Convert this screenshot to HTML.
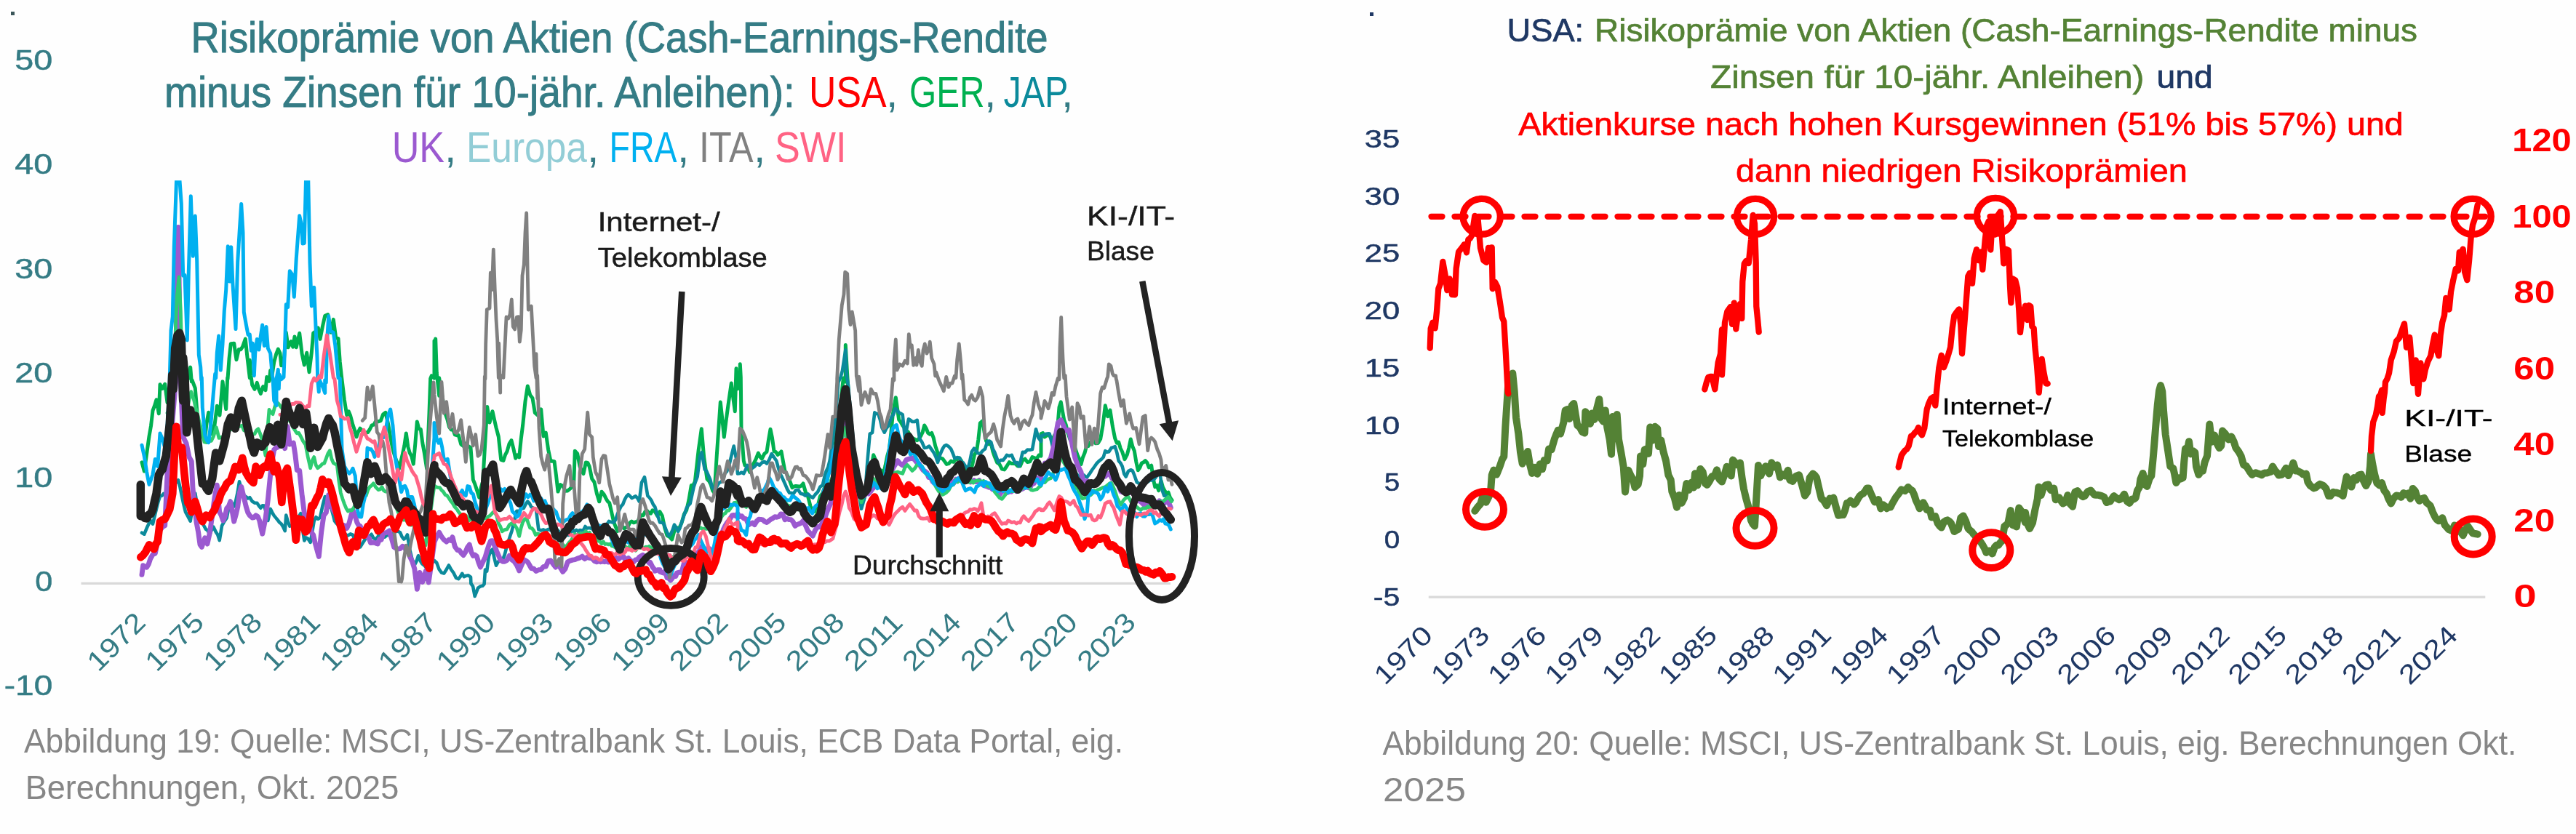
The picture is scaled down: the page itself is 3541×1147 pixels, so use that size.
<!DOCTYPE html><html><head><meta charset="utf-8"><style>html,body{margin:0;padding:0;background:#fefefe}svg{display:block;will-change:transform}</style></head><body><svg width="3541" height="1147" viewBox="0 0 3541 1147">
<rect width="100%" height="100%" fill="#fefefe"/>
<g font-family="Liberation Sans, sans-serif">
<rect x="15" y="16" width="5" height="5" fill="#3b5659"/>
<text x="262.6" y="71.6" font-size="59.0" fill="#357c85" textLength="1178.0" lengthAdjust="spacingAndGlyphs" stroke="#357c85" stroke-width="1.0" >Risikoprämie von Aktien (Cash-Earnings-Rendite</text>
<text x="226.0" y="146.8" font-size="59.0" fill="#357c85" textLength="866.5" lengthAdjust="spacingAndGlyphs" stroke="#357c85" stroke-width="1.0" >minus Zinsen für 10-jähr. Anleihen):</text>
<text x="1112.0" y="146.8" font-size="59.0" fill="#ff0000" textLength="106.5" lengthAdjust="spacingAndGlyphs" >USA</text>
<text x="1218.0" y="146.8" font-size="59.0" fill="#357c85" >,</text>
<text x="1250.0" y="146.8" font-size="59.0" fill="#00b050" textLength="103.5" lengthAdjust="spacingAndGlyphs" >GER</text>
<text x="1353.0" y="146.8" font-size="59.0" fill="#357c85" >,</text>
<text x="1379.5" y="146.8" font-size="59.0" fill="#0b8a9b" textLength="89.0" lengthAdjust="spacingAndGlyphs" >JAP</text>
<text x="1459.0" y="146.8" font-size="59.0" fill="#357c85" >,</text>
<text x="538.7" y="222.6" font-size="59.0" fill="#9b59d0" textLength="72.5" lengthAdjust="spacingAndGlyphs" >UK</text>
<text x="611.0" y="222.6" font-size="59.0" fill="#357c85" >,</text>
<text x="641.0" y="222.6" font-size="59.0" fill="#92cdd6" textLength="166.0" lengthAdjust="spacingAndGlyphs" >Europa</text>
<text x="807.0" y="222.6" font-size="59.0" fill="#357c85" >,</text>
<text x="837.5" y="222.6" font-size="59.0" fill="#00b0f0" textLength="93.0" lengthAdjust="spacingAndGlyphs" >FRA</text>
<text x="931.0" y="222.6" font-size="59.0" fill="#357c85" >,</text>
<text x="961.0" y="222.6" font-size="59.0" fill="#808080" textLength="74.5" lengthAdjust="spacingAndGlyphs" >ITA</text>
<text x="1036.0" y="222.6" font-size="59.0" fill="#357c85" >,</text>
<text x="1065.0" y="222.6" font-size="59.0" fill="#ff6384" textLength="98.5" lengthAdjust="spacingAndGlyphs" >SWI</text>
<text x="72.3" y="95.9" font-size="38.0" fill="#357c85" textLength="52.0" lengthAdjust="spacingAndGlyphs" text-anchor="end" stroke="#357c85" stroke-width="0.5" >50</text>
<text x="72.3" y="239.3" font-size="38.0" fill="#357c85" textLength="52.0" lengthAdjust="spacingAndGlyphs" text-anchor="end" stroke="#357c85" stroke-width="0.5" >40</text>
<text x="72.3" y="382.7" font-size="38.0" fill="#357c85" textLength="52.0" lengthAdjust="spacingAndGlyphs" text-anchor="end" stroke="#357c85" stroke-width="0.5" >30</text>
<text x="72.3" y="526.1" font-size="38.0" fill="#357c85" textLength="52.0" lengthAdjust="spacingAndGlyphs" text-anchor="end" stroke="#357c85" stroke-width="0.5" >20</text>
<text x="72.3" y="669.5" font-size="38.0" fill="#357c85" textLength="52.0" lengthAdjust="spacingAndGlyphs" text-anchor="end" stroke="#357c85" stroke-width="0.5" >10</text>
<text x="72.3" y="812.9" font-size="38.0" fill="#357c85" textLength="24.0" lengthAdjust="spacingAndGlyphs" text-anchor="end" stroke="#357c85" stroke-width="0.5" >0</text>
<text x="72.3" y="956.3" font-size="38.0" fill="#357c85" textLength="66.5" lengthAdjust="spacingAndGlyphs" text-anchor="end" stroke="#357c85" stroke-width="0.5" >-10</text>
<line x1="111.5" y1="802.4" x2="1609" y2="802.4" stroke="#d9d9d9" stroke-width="3.2"/>
<clipPath id="cl"><rect x="100" y="248.3" width="1560" height="640"/></clipPath>
<g fill="none" stroke-linejoin="round" stroke-linecap="round" clip-path="url(#cl)">
<path d="M195.0 635.9 L198.3 648.0 L201.7 623.7 L205.0 600.1 L207.5 585.9 L210.0 564.6 L212.5 557.9 L215.0 549.7 L218.3 568.9 L220.0 528.7 L223.3 534.4 L226.7 528.3 L230.0 553.6 L233.3 538.7 L235.8 533.4 L238.3 523.0 L240.8 522.0 L243.3 523.7 L245.8 521.3 L248.3 518.9 L250.8 518.5 L253.3 516.1 L255.8 520.3 L258.3 521.2 L261.7 505.1 L263.3 524.7 L264.0 522.7 L268.3 533.9 L271.3 571.5 L274.0 584.4 L276.7 595.0 L279.2 600.7 L281.7 602.9 L284.2 580.7 L286.7 567.2 L289.2 579.3 L291.7 597.1 L295.0 584.7 L298.3 558.3 L302.0 571.1 L306.0 524.8 L308.3 544.6 L310.7 562.6 L312.7 519.3 L313.0 521.2 L315.0 493.6 L317.3 472.7 L321.7 472.2 L325.0 494.8 L328.3 480.5 L330.8 480.8 L333.3 477.3 L337.3 466.1 L340.0 491.8 L343.3 519.8 L343.3 495.3 L345.0 517.0 L346.7 529.5 L350.0 535.3 L353.3 526.4 L355.8 535.3 L358.3 541.4 L361.7 531.6 L365.0 536.7 L366.7 518.4 L370.0 524.3 L371.7 509.6 L373.3 521.0 L376.7 498.1 L379.5 487.5 L382.3 480.1 L385.0 485.9 L386.7 502.7 L390.0 499.2 L393.3 457.3 L396.0 477.8 L400.0 469.6 L402.7 477.2 L405.0 462.9 L407.3 477.8 L411.7 458.2 L415.0 485.9 L418.3 501.9 L421.7 485.3 L425.0 511.8 L428.3 485.1 L430.7 458.1 L433.3 456.3 L437.3 450.9 L440.0 466.4 L443.3 449.5 L446.7 434.2 L450.7 432.6 L455.0 457.3 L458.3 439.4 L461.7 464.6 L465.0 465.7 L467.3 497.9 L469.3 516.0 L473.3 549.4 L476.7 570.8 L479.2 565.8 L481.7 571.8 L485.0 584.3 L487.5 591.5 L490.0 600.8 L492.5 593.9 L495.0 589.2 L497.5 592.0 L500.0 596.7 L502.8 595.2 L505.6 594.5 L508.3 590.5 L511.1 584.9 L513.9 584.1 L516.7 578.9 L520.0 579.8 L523.3 578.7 L526.7 569.7 L530.0 567.4 L533.3 581.8 L535.8 596.0 L538.3 609.7 L540.8 620.8 L543.3 629.2 L545.8 635.9 L548.3 645.1 L550.8 635.3 L553.3 624.9 L555.8 613.3 L558.3 595.9 L560.8 614.4 L563.3 623.1 L565.8 627.5 L568.3 638.1 L570.8 610.4 L573.3 579.9 L575.8 589.6 L578.3 590.4 L580.8 609.3 L583.3 622.8 L586.7 644.9 L590.0 567.9 L591.7 520.7 L593.3 516.7 L597.0 520.1 L597.0 468.7 L597.0 513.5 L598.7 465.9 L600.3 512.8 L603.7 544.2 L603.7 519.8 L606.4 536.5 L609.2 552.6 L612.0 568.6 L614.8 576.4 L617.6 587.4 L620.3 591.1 L622.8 590.7 L625.3 597.9 L627.8 598.7 L630.3 598.5 L633.7 610.9 L637.0 613.4 L640.3 609.8 L643.7 613.6 L647.0 615.7 L650.3 659.6 L652.8 665.8 L655.3 673.4 L658.7 684.2 L661.2 670.7 L663.7 662.3 L667.0 606.0 L669.7 559.5 L673.0 581.1 L677.0 565.7 L679.5 577.0 L682.0 588.1 L685.3 600.5 L688.7 632.3 L692.0 633.5 L694.5 625.6 L697.0 620.9 L700.0 610.4 L703.0 605.7 L705.8 616.8 L708.7 630.2 L711.2 625.9 L713.7 628.9 L716.2 603.9 L718.7 584.4 L722.0 552.1 L725.3 530.9 L728.7 543.2 L732.0 547.6 L735.3 567.6 L738.7 570.8 L741.2 571.4 L743.7 562.8 L747.0 599.9 L750.3 595.1 L753.7 618.7 L757.0 634.2 L759.5 634.1 L762.0 634.6 L764.5 653.8 L767.0 676.1 L770.3 666.6 L773.7 668.4 L777.0 675.2 L780.3 674.9 L783.7 672.1 L786.2 669.1 L788.7 666.3 L790.3 620.2 L793.7 624.0 L797.0 641.4 L799.5 647.0 L802.0 651.6 L805.3 636.0 L807.8 636.4 L810.3 641.9 L813.7 658.5 L817.0 662.9 L820.3 678.6 L823.7 689.8 L827.0 676.2 L830.3 680.2 L832.8 685.2 L835.3 689.6 L837.8 691.7 L840.3 702.7 L843.7 718.0 L846.2 724.4 L848.7 730.6 L851.0 725.8 L853.3 725.7 L855.7 724.1 L858.0 726.8 L860.3 725.5 L863.0 724.7 L865.7 719.0 L868.3 717.0 L871.0 718.8 L873.7 717.8 L876.3 717.6 L879.0 712.1 L881.7 708.5 L884.3 708.7 L887.0 703.3 L889.5 702.5 L892.0 705.3 L894.5 706.3 L897.0 701.8 L900.3 703.6 L903.7 709.4 L907.0 703.6 L910.3 709.5 L913.7 725.8 L917.0 736.6 L920.3 738.4 L923.7 742.0 L926.2 733.0 L928.7 725.0 L931.2 726.1 L933.7 726.6 L937.0 719.1 L940.3 707.4 L943.7 701.7 L947.0 687.1 L950.3 667.5 L952.8 667.4 L955.3 662.5 L957.8 640.2 L960.3 618.1 L964.3 589.8 L967.7 629.2 L972.0 659.0 L974.5 661.4 L977.0 666.1 L979.5 674.6 L982.0 678.1 L985.3 625.8 L987.8 589.8 L990.3 553.1 L992.8 576.1 L995.3 601.1 L997.8 580.8 L1000.3 562.1 L1002.8 544.4 L1005.3 527.0 L1007.8 547.1 L1010.3 565.7 L1012.0 506.8 L1014.0 534.8 L1014.0 513.6 L1015.7 518.8 L1017.3 525.4 L1017.3 500.8 L1018.3 518.8 L1019.0 588.9 L1022.3 633.9 L1024.0 640.0 L1027.3 641.3 L1030.7 649.4 L1033.2 643.3 L1035.7 638.2 L1039.0 631.6 L1042.3 623.1 L1044.8 628.3 L1047.3 631.0 L1050.7 624.1 L1054.0 621.4 L1056.5 605.0 L1059.0 590.3 L1061.5 602.3 L1064.0 620.7 L1066.5 621.6 L1069.0 625.5 L1071.5 623.6 L1074.0 620.9 L1076.5 634.7 L1079.0 647.9 L1081.5 652.0 L1084.0 657.3 L1086.5 663.7 L1089.0 670.6 L1091.5 668.9 L1094.0 668.4 L1096.5 668.7 L1099.0 669.4 L1101.5 668.0 L1104.0 665.0 L1107.3 676.5 L1110.7 683.2 L1114.0 696.1 L1117.3 704.1 L1120.7 703.0 L1124.0 696.6 L1127.3 682.7 L1130.7 678.2 L1134.0 668.8 L1137.3 659.5 L1139.8 645.4 L1142.3 633.6 L1144.8 627.7 L1147.3 619.0 L1150.1 595.1 L1152.9 577.3 L1155.7 552.5 L1159.3 520.0 L1162.3 525.0 L1162.3 474.4 L1164.7 515.6 L1167.7 561.5 L1170.7 611.7 L1174.0 636.7 L1177.3 661.5 L1180.7 677.1 L1184.0 691.7 L1186.5 689.7 L1189.0 680.5 L1192.3 668.6 L1195.7 652.8 L1198.2 640.8 L1200.7 625.7 L1203.2 631.7 L1205.7 638.3 L1208.4 646.0 L1211.2 646.8 L1214.0 653.0 L1216.8 641.4 L1219.6 627.5 L1222.3 618.0 L1224.8 596.0 L1227.3 569.6 L1231.3 546.7 L1235.7 577.3 L1238.2 580.6 L1240.7 585.1 L1243.2 588.0 L1245.7 592.7 L1248.2 593.8 L1250.7 598.1 L1253.2 602.0 L1255.7 603.3 L1258.2 604.3 L1260.7 605.8 L1263.2 603.4 L1265.7 599.6 L1268.2 594.5 L1270.7 585.0 L1273.2 589.3 L1275.7 595.5 L1278.2 597.3 L1280.7 595.5 L1283.2 602.1 L1285.7 613.2 L1288.2 620.5 L1290.7 628.4 L1293.3 630.1 L1296.0 631.1 L1298.7 634.9 L1301.3 638.4 L1304.0 637.7 L1307.3 634.1 L1310.7 635.3 L1313.4 632.1 L1316.2 631.5 L1319.0 630.1 L1321.8 634.1 L1324.6 643.8 L1327.3 647.1 L1330.7 648.2 L1334.0 648.7 L1336.8 638.6 L1339.6 625.1 L1342.3 621.6 L1344.8 604.8 L1347.3 581.8 L1350.7 578.8 L1353.2 595.0 L1355.7 606.7 L1359.0 610.7 L1362.3 610.2 L1364.8 620.9 L1367.3 628.1 L1370.7 636.2 L1374.0 638.6 L1377.3 645.1 L1380.7 645.9 L1384.0 641.0 L1387.3 635.7 L1390.1 637.4 L1392.9 637.6 L1395.7 637.7 L1399.0 641.0 L1402.3 641.0 L1405.7 633.1 L1409.0 631.2 L1412.3 635.6 L1415.7 634.9 L1419.0 628.6 L1422.3 629.8 L1425.2 630.8 L1428.1 626.0 L1431.0 627.1 L1431.0 596.5 L1433.5 595.6 L1436.0 600.9 L1438.8 599.1 L1441.6 597.0 L1444.3 601.8 L1447.1 604.0 L1449.9 597.9 L1452.7 600.1 L1456.0 560.0 L1458.3 552.9 L1462.7 577.7 L1465.2 584.1 L1467.7 594.8 L1471.0 604.7 L1474.3 610.9 L1477.7 615.8 L1481.0 625.5 L1483.5 631.0 L1486.0 638.7 L1488.5 628.9 L1491.0 623.1 L1493.5 613.6 L1496.0 613.5 L1499.3 607.6 L1502.7 605.4 L1506.0 609.8 L1509.3 609.4 L1512.7 603.7 L1516.0 584.7 L1519.3 557.8 L1522.7 572.8 L1526.0 564.2 L1529.3 586.0 L1532.7 602.9 L1535.2 609.2 L1537.7 608.0 L1540.2 616.5 L1542.7 621.5 L1546.0 631.7 L1549.3 625.4 L1551.8 616.1 L1554.3 604.0 L1556.8 613.8 L1559.3 620.1 L1561.8 635.2 L1564.3 646.7 L1566.8 643.2 L1569.3 637.0 L1571.8 635.9 L1574.3 633.6 L1576.8 636.2 L1579.3 642.9 L1582.7 640.2 L1585.2 658.3 L1587.7 669.6 L1590.2 667.5 L1592.7 674.6 L1596.0 661.1 L1598.5 670.1 L1601.0 674.9 L1603.5 678.5 L1606.0 677.1 L1608.5 684.5 L1611.0 688.0" stroke="#00b050" stroke-width="5.0"/>
<path d="M195.0 732.7 L198.3 734.7 L201.7 726.3 L204.2 721.0 L206.7 715.8 L210.0 720.6 L212.5 710.2 L215.0 699.9 L217.5 690.0 L220.0 682.2 L222.5 681.7 L225.0 678.9 L227.5 680.7 L230.0 680.4 L233.3 671.9 L236.7 664.4 L239.4 667.6 L242.2 663.2 L245.0 660.3 L247.5 670.0 L250.0 682.5 L252.5 693.9 L255.0 704.1 L258.3 710.2 L261.7 716.7 L265.0 695.9 L268.3 678.5 L271.7 699.0 L274.4 704.3 L277.2 716.1 L280.0 722.5 L282.8 727.6 L285.6 729.8 L288.3 735.5 L290.8 729.0 L293.3 724.6 L296.7 731.6 L299.2 735.3 L301.7 743.1 L305.0 723.1 L308.3 717.1 L311.7 712.1 L314.2 699.8 L316.7 688.6 L319.2 693.4 L321.7 696.5 L324.2 688.5 L326.7 676.8 L329.0 662.3 L333.3 678.0 L335.8 681.6 L338.3 683.3 L340.8 685.5 L343.3 684.2 L346.7 689.5 L350.0 691.6 L353.3 691.8 L355.8 695.5 L358.3 698.7 L360.8 695.3 L363.3 695.6 L365.8 704.9 L368.3 715.9 L371.7 699.9 L374.2 704.8 L376.7 709.1 L379.2 712.1 L381.7 715.2 L384.2 718.5 L386.7 720.5 L389.2 724.5 L391.7 730.1 L393.3 708.6 L395.8 717.3 L398.3 723.7 L401.1 722.6 L403.9 721.1 L406.7 719.7 L410.0 712.1 L413.3 706.1 L415.8 727.1 L418.3 743.5 L420.8 739.5 L423.3 740.8 L426.7 745.9 L429.2 731.6 L431.7 716.6 L434.4 711.2 L437.2 713.7 L440.0 711.9 L443.3 696.1 L446.7 683.0 L450.0 698.7 L452.5 696.8 L455.0 697.5 L457.5 706.8 L460.0 716.6 L462.5 719.7 L465.0 721.9 L467.5 727.0 L470.0 727.5 L472.8 731.9 L475.6 735.7 L478.3 736.5 L481.7 734.4 L485.0 735.7 L488.3 744.4 L491.7 752.1 L495.0 752.4 L498.3 747.2 L501.7 741.9 L505.0 737.3 L507.8 737.5 L510.6 734.8 L513.3 739.8 L516.1 741.7 L518.9 739.1 L521.7 734.0 L524.0 733.8 L526.3 734.8 L528.7 738.7 L531.0 736.9 L533.3 735.5 L535.8 736.6 L538.3 733.7 L540.8 735.4 L543.3 731.2 L546.7 730.5 L550.0 732.2 L552.5 738.1 L555.0 741.5 L557.5 739.9 L560.0 735.4 L563.3 756.1 L566.7 769.8 L570.0 776.7 L572.5 771.9 L575.0 764.3 L577.5 770.8 L580.0 775.1 L583.3 777.6 L586.7 781.4 L589.2 779.5 L591.8 777.9 L594.4 773.5 L597.0 771.0 L597.0 770.9 L600.3 774.0 L603.7 783.2 L607.0 787.6 L610.3 788.6 L613.7 783.2 L617.0 777.5 L620.3 783.5 L623.7 788.2 L627.0 794.9 L630.3 796.1 L632.8 793.0 L635.3 788.8 L637.8 793.2 L640.3 791.9 L643.7 791.3 L647.0 793.6 L647.4 802.7 L650.1 806.4 L652.7 820.0 L657.1 808.7 L660.8 806.2 L663.2 805.8 L665.6 803.4 L667.0 783.5 L669.2 785.7 L672.0 764.8 L674.5 757.9 L677.0 755.5 L679.5 767.5 L682.0 777.7 L684.8 772.6 L687.6 769.7 L690.3 771.9 L693.7 762.9 L697.0 750.2 L700.3 739.9 L703.7 729.8 L707.0 715.6 L710.3 702.9 L713.7 702.8 L717.0 699.5 L719.8 699.0 L722.6 693.4 L725.3 689.7 L727.8 692.3 L730.3 697.3 L733.7 699.0 L737.0 701.1 L740.3 728.1 L743.7 729.5 L747.0 728.4 L749.4 729.8 L751.8 729.0 L754.1 727.7 L756.5 729.1 L758.9 729.3 L761.3 728.7 L763.7 728.0 L766.0 728.4 L768.4 731.3 L770.8 732.7 L773.2 732.5 L775.6 735.8 L778.0 735.1 L780.3 735.9 L782.7 736.0 L785.1 732.1 L787.5 728.5 L789.9 731.1 L792.2 728.9 L794.6 730.7 L797.0 729.1 L799.5 729.5 L802.0 729.0 L804.5 724.0 L807.0 726.6 L809.4 726.1 L811.8 726.3 L814.1 727.3 L816.5 730.1 L818.9 731.6 L821.3 732.7 L823.7 729.3 L826.3 727.1 L829.0 721.7 L831.7 721.9 L834.3 721.2 L837.0 716.9 L840.3 718.1 L843.7 718.4 L846.2 714.7 L848.7 707.2 L851.2 701.4 L853.7 696.3 L856.2 693.6 L858.7 687.1 L861.2 682.7 L863.7 680.2 L866.2 682.5 L868.7 685.1 L871.2 683.6 L873.7 682.4 L876.2 685.0 L878.7 689.6 L882.0 663.5 L886.0 656.2 L890.3 681.9 L892.8 684.5 L895.3 688.0 L897.8 693.6 L900.3 697.1 L903.7 708.1 L907.0 718.4 L909.5 718.6 L912.0 719.7 L914.5 725.9 L917.0 732.3 L919.5 737.1 L922.0 734.4 L924.5 729.0 L927.0 721.6 L929.5 725.7 L932.0 731.1 L934.5 726.4 L937.0 718.6 L940.3 708.8 L943.7 698.7 L946.2 695.0 L948.7 692.6 L951.2 681.1 L953.7 669.4 L956.2 662.1 L958.7 655.5 L962.0 628.3 L964.7 622.2 L968.7 645.5 L971.2 647.9 L973.7 653.6 L976.2 659.3 L978.7 669.1 L981.2 672.9 L983.7 672.7 L986.2 667.4 L988.7 663.9 L991.2 662.9 L993.7 660.3 L996.4 651.2 L999.2 648.2 L1002.0 641.1 L1005.3 627.3 L1008.7 613.6 L1012.0 630.5 L1014.0 651.5 L1016.8 651.0 L1019.6 649.7 L1022.3 651.3 L1024.8 646.3 L1027.3 640.0 L1030.7 641.6 L1034.0 643.9 L1037.3 641.6 L1040.7 637.7 L1044.0 639.8 L1047.3 636.4 L1050.7 634.8 L1054.0 637.6 L1057.3 632.6 L1060.7 624.1 L1064.0 629.0 L1067.3 633.8 L1069.8 642.8 L1072.3 651.5 L1074.8 655.8 L1077.3 661.5 L1079.8 667.1 L1082.3 673.0 L1085.1 677.7 L1087.9 678.0 L1090.7 679.0 L1094.0 674.1 L1097.3 673.7 L1100.7 679.0 L1104.0 679.6 L1107.3 681.7 L1110.7 679.4 L1114.0 682.7 L1117.3 684.6 L1120.7 680.0 L1124.0 676.7 L1127.3 669.6 L1130.7 667.2 L1133.2 656.7 L1135.7 648.0 L1138.2 642.8 L1140.7 633.2 L1144.0 608.6 L1147.3 585.8 L1149.8 558.6 L1152.3 525.8 L1155.7 518.2 L1158.0 509.7 L1162.3 481.2 L1164.0 518.5 L1165.7 527.2 L1169.0 563.9 L1172.3 599.3 L1175.7 633.6 L1179.0 667.4 L1181.5 682.6 L1184.0 699.8 L1186.5 691.5 L1189.0 682.4 L1192.3 635.7 L1195.7 596.6 L1199.0 595.2 L1202.3 567.4 L1204.8 568.9 L1207.3 569.5 L1209.8 577.1 L1212.3 587.9 L1215.7 594.7 L1218.2 589.4 L1220.7 586.4 L1223.2 579.7 L1225.7 573.1 L1228.2 569.9 L1230.7 562.1 L1233.2 564.2 L1235.7 567.6 L1238.2 568.7 L1240.7 570.3 L1244.0 602.8 L1246.5 588.9 L1249.0 576.4 L1251.5 577.7 L1254.0 580.0 L1257.3 580.0 L1260.7 577.8 L1264.0 603.3 L1267.3 607.9 L1270.7 615.9 L1274.0 615.4 L1277.3 613.6 L1280.7 618.4 L1284.0 623.3 L1286.5 628.6 L1289.0 635.9 L1292.3 625.0 L1295.7 617.3 L1298.2 613.3 L1300.7 612.1 L1304.0 614.0 L1307.3 617.6 L1309.8 623.5 L1312.3 630.3 L1315.7 629.1 L1319.0 629.7 L1321.5 635.5 L1324.0 636.5 L1327.3 641.6 L1330.7 643.8 L1333.2 634.2 L1335.7 621.6 L1339.0 616.6 L1341.5 619.8 L1344.0 623.0 L1347.3 624.2 L1350.7 620.0 L1354.0 617.5 L1357.3 607.2 L1359.8 606.5 L1362.3 608.2 L1364.8 617.3 L1367.3 622.1 L1369.8 628.9 L1372.3 635.8 L1375.7 632.7 L1379.0 632.9 L1381.5 629.7 L1384.0 625.8 L1387.3 627.1 L1390.7 625.9 L1393.2 631.8 L1395.7 636.7 L1398.2 636.1 L1400.7 641.0 L1403.2 632.8 L1405.7 621.9 L1409.0 622.1 L1412.3 618.6 L1415.7 618.8 L1419.0 618.0 L1421.5 604.4 L1424.0 590.2 L1427.3 601.8 L1431.0 606.8 L1431.0 599.6 L1434.3 598.5 L1437.7 596.8 L1440.2 596.4 L1442.7 596.5 L1445.2 606.6 L1447.7 617.6 L1451.0 628.1 L1454.3 624.3 L1457.7 617.6 L1461.0 626.5 L1464.3 630.5 L1466.8 630.3 L1469.3 636.4 L1471.8 639.7 L1474.3 646.0 L1476.8 646.7 L1479.3 650.8 L1481.8 654.3 L1484.3 657.7 L1486.8 656.2 L1489.3 653.1 L1491.8 655.3 L1494.3 656.2 L1497.7 651.7 L1501.0 646.5 L1504.3 642.0 L1507.7 637.2 L1511.0 633.8 L1514.3 631.3 L1516.8 628.6 L1519.3 620.2 L1521.8 621.8 L1524.3 621.2 L1527.7 615.9 L1530.2 615.3 L1532.7 614.2 L1535.2 622.1 L1537.7 633.7 L1540.2 636.7 L1542.7 641.3 L1545.2 651.5 L1547.7 655.6 L1551.0 648.0 L1554.3 646.2 L1556.8 647.3 L1559.3 653.5 L1562.7 663.3 L1566.0 665.0 L1569.3 665.0 L1571.7 665.9 L1574.0 663.5 L1576.3 663.3 L1578.7 661.9 L1581.0 660.1 L1583.7 660.5 L1586.3 659.2 L1589.0 656.0 L1591.7 652.1 L1594.3 649.2 L1597.7 674.5 L1600.2 681.8 L1602.7 681.7 L1605.2 685.2 L1607.7 691.3" stroke="#0b8a9b" stroke-width="4.6"/>
<path d="M195.0 790.4 L196.7 777.6 L199.2 779.1 L201.7 780.3 L204.2 776.1 L206.7 768.5 L210.0 762.7 L213.3 761.1 L216.7 744.7 L220.0 729.1 L223.3 724.8 L226.7 722.8 L230.0 652.0 L232.5 628.1 L235.0 603.9 L238.3 563.8 L241.7 522.3 L243.3 375.8 L245.0 312.5 L246.0 376.5 L248.0 520.2 L251.7 601.0 L256.0 609.5 L260.0 628.6 L263.3 634.6 L265.0 671.7 L267.5 695.6 L270.0 718.0 L272.5 731.3 L275.0 749.0 L277.3 752.3 L281.7 739.7 L285.0 748.1 L288.3 732.9 L291.7 709.6 L295.0 684.4 L298.3 667.2 L301.7 704.2 L304.2 709.0 L306.7 716.0 L309.2 710.5 L311.7 699.1 L314.2 696.4 L316.7 689.9 L319.2 703.1 L321.7 717.2 L324.2 708.1 L326.7 697.3 L329.2 678.1 L331.7 669.2 L335.0 683.0 L338.3 696.9 L340.8 704.9 L343.3 709.0 L346.7 712.0 L349.2 711.5 L351.7 708.9 L354.2 710.2 L356.7 716.0 L360.7 734.2 L365.0 713.0 L368.3 687.5 L371.7 652.8 L374.2 633.1 L376.7 618.5 L379.2 616.0 L381.7 615.0 L384.2 598.7 L386.7 589.5 L389.2 603.6 L391.7 616.7 L395.0 586.5 L398.3 611.0 L400.8 610.3 L403.3 609.0 L405.8 625.2 L408.3 646.5 L411.7 647.1 L415.0 679.4 L418.3 705.5 L421.7 716.3 L425.0 720.7 L427.8 731.9 L430.6 735.6 L433.3 747.1 L435.8 756.4 L438.3 765.4 L441.7 731.8 L445.0 709.0 L448.3 704.9 L451.7 680.8 L454.2 691.6 L456.7 698.1 L459.2 703.3 L461.7 706.4 L464.2 712.5 L466.7 718.1 L470.0 722.1 L473.3 722.7 L476.7 726.5 L480.0 719.4 L482.5 709.7 L485.0 701.3 L488.3 709.9 L490.7 718.4 L493.0 722.7 L495.3 723.7 L497.7 729.8 L500.0 736.8 L502.4 734.7 L504.8 738.3 L507.1 740.0 L509.5 746.5 L511.9 746.3 L514.3 746.1 L516.7 747.1 L519.2 747.9 L521.7 741.5 L524.2 742.3 L526.7 733.2 L529.4 732.9 L532.2 731.9 L535.0 730.0 L538.3 740.6 L541.7 752.5 L544.2 753.9 L546.7 755.2 L550.0 754.7 L553.3 751.3 L555.8 752.0 L558.3 756.9 L560.8 756.1 L563.3 765.3 L566.6 772.0 L569.8 782.1 L573.4 810.3 L577.0 787.4 L580.7 800.4 L583.1 792.7 L585.5 784.7 L589.2 801.1 L592.8 776.0 L597.0 745.6 L600.3 738.0 L603.7 732.2 L607.0 738.1 L610.3 742.4 L613.7 745.1 L617.0 742.3 L619.5 743.4 L622.0 738.7 L625.3 751.7 L628.7 756.5 L631.4 756.7 L634.2 760.7 L637.0 763.5 L639.8 759.3 L642.6 752.7 L645.3 749.0 L647.8 759.1 L650.3 764.4 L652.8 763.0 L655.3 764.9 L657.8 773.3 L660.3 779.9 L663.7 773.0 L667.0 766.3 L669.5 757.5 L672.0 749.7 L674.5 744.0 L677.0 743.6 L679.8 750.3 L682.6 757.8 L685.3 763.9 L688.1 770.3 L690.9 772.2 L693.7 772.3 L697.0 770.5 L700.3 764.2 L703.7 769.9 L707.0 772.3 L710.3 777.2 L713.7 784.8 L717.0 777.2 L720.3 769.7 L722.8 771.0 L725.3 772.8 L727.8 777.0 L730.3 781.5 L733.7 782.1 L737.0 785.5 L740.3 783.8 L743.7 783.4 L747.0 779.4 L750.3 779.0 L753.7 771.5 L757.0 770.9 L760.3 775.6 L763.7 780.0 L766.2 777.5 L768.7 778.5 L771.2 782.2 L773.7 786.4 L777.0 782.3 L780.3 772.8 L783.7 771.1 L787.0 770.1 L790.3 769.6 L793.7 768.1 L797.0 767.1 L800.3 765.1 L803.7 768.6 L807.0 766.4 L810.3 767.3 L813.7 767.9 L817.0 771.5 L820.3 772.9 L823.0 771.8 L825.7 772.7 L828.3 772.1 L831.0 772.7 L833.7 771.9 L836.3 773.1 L839.0 770.7 L841.7 770.1 L844.3 769.4 L847.0 766.8 L850.3 769.1 L853.7 765.9 L856.2 763.8 L858.7 768.6 L861.2 769.3 L863.7 767.6 L866.2 770.5 L868.7 772.0 L871.2 772.6 L873.7 769.9 L876.2 769.6 L878.7 766.2 L881.2 764.7 L883.7 763.2 L886.6 765.9 L889.5 771.3 L892.5 774.4 L893.7 773.4 L896.7 779.4 L899.7 783.3 L900.3 785.3 L903.7 783.8 L907.0 783.8 L907.0 786.2 L909.4 787.1 L911.9 787.9 L914.3 785.3 L917.0 794.7 L919.3 795.3 L921.7 798.1 L924.0 795.5 L926.4 791.7 L928.9 792.5 L930.3 788.1 L933.7 787.1 L937.0 787.2 L941.0 772.2 L943.3 773.7 L945.7 776.4 L948.0 774.6 L950.3 772.4 L953.0 768.7 L955.7 763.8 L958.3 761.0 L961.0 758.3 L963.7 751.9 L966.0 753.6 L968.4 754.2 L970.8 755.9 L973.2 757.3 L975.6 754.9 L978.0 758.9 L980.3 760.2 L982.7 752.0 L985.1 747.7 L987.5 740.9 L989.9 737.7 L992.2 734.5 L994.6 727.5 L997.0 722.8 L999.3 719.2 L1001.7 716.2 L1004.0 712.8 L1006.3 708.9 L1008.7 708.4 L1011.3 709.5 L1014.0 711.1 L1014.0 706.5 L1016.8 710.5 L1019.6 709.7 L1022.3 712.9 L1025.7 713.8 L1029.0 721.8 L1031.8 720.1 L1034.6 719.1 L1037.3 721.6 L1040.1 716.9 L1042.9 714.3 L1045.7 714.4 L1048.4 714.9 L1051.2 717.4 L1054.0 718.5 L1056.8 716.5 L1059.6 714.1 L1062.3 712.8 L1065.1 710.7 L1067.9 711.3 L1070.7 710.5 L1073.4 706.9 L1076.2 707.4 L1079.0 714.7 L1081.8 713.3 L1084.6 714.5 L1087.3 714.6 L1090.1 717.4 L1092.9 723.3 L1095.7 721.4 L1098.4 720.4 L1101.2 719.3 L1104.0 716.2 L1107.3 722.6 L1110.7 730.3 L1114.0 733.6 L1117.3 737.0 L1120.7 728.9 L1124.0 724.3 L1127.3 724.9 L1130.7 718.3 L1133.4 713.5 L1136.2 705.6 L1139.0 698.4 L1141.8 692.6 L1144.6 677.4 L1147.3 666.1 L1149.8 652.1 L1152.3 635.0 L1154.8 615.2 L1157.3 600.8 L1159.8 594.2 L1162.3 582.3 L1165.1 599.7 L1167.9 619.0 L1170.7 638.5 L1173.2 644.2 L1175.7 657.6 L1178.2 671.7 L1180.7 682.9 L1183.3 681.2 L1186.0 680.5 L1188.7 681.2 L1191.3 677.6 L1194.0 679.1 L1196.7 675.9 L1199.3 672.2 L1202.0 669.5 L1204.7 662.2 L1207.3 658.0 L1210.0 659.9 L1212.7 660.9 L1215.3 660.6 L1218.0 658.0 L1220.7 657.2 L1223.3 650.8 L1226.0 647.2 L1228.7 642.0 L1231.3 637.9 L1234.0 633.6 L1237.3 637.6 L1240.7 640.0 L1243.3 636.6 L1246.0 632.2 L1248.7 631.4 L1251.3 630.7 L1254.0 629.8 L1257.3 632.3 L1260.7 636.5 L1263.3 637.4 L1266.0 642.4 L1268.7 646.4 L1271.3 647.9 L1274.0 650.0 L1276.7 656.6 L1279.3 656.8 L1282.0 662.3 L1284.7 664.5 L1287.3 667.4 L1289.8 669.1 L1292.3 670.4 L1294.8 672.7 L1297.3 677.9 L1299.7 675.9 L1302.1 670.8 L1304.5 668.7 L1306.9 667.2 L1309.2 662.7 L1311.6 663.7 L1314.0 659.1 L1316.5 659.9 L1319.0 657.6 L1321.5 656.9 L1324.0 657.2 L1326.5 658.3 L1329.0 661.9 L1331.5 660.8 L1334.0 663.0 L1336.4 661.6 L1338.8 660.6 L1341.1 662.6 L1343.5 662.5 L1345.9 660.6 L1348.3 663.4 L1350.7 666.6 L1354.0 668.3 L1357.3 669.3 L1359.7 670.4 L1362.1 670.5 L1364.5 673.0 L1366.9 673.1 L1369.2 675.4 L1371.6 677.2 L1374.0 680.5 L1377.3 675.9 L1380.7 672.3 L1383.0 677.9 L1385.4 677.2 L1387.8 675.4 L1390.2 676.3 L1392.6 673.8 L1395.0 674.0 L1397.3 675.7 L1399.7 673.5 L1402.1 673.0 L1404.5 672.7 L1406.9 671.4 L1409.2 669.7 L1411.6 669.9 L1414.0 670.7 L1416.4 669.7 L1418.9 664.6 L1421.3 665.0 L1423.7 659.3 L1426.1 657.5 L1428.6 659.2 L1431.0 657.8 L1431.0 645.6 L1433.7 644.8 L1436.3 637.1 L1439.0 638.0 L1441.7 633.5 L1444.3 630.4 L1446.8 620.2 L1449.3 610.8 L1451.8 595.5 L1454.3 581.4 L1458.3 577.7 L1461.3 583.9 L1464.3 591.7 L1466.8 591.8 L1469.3 591.3 L1471.8 602.1 L1474.3 613.6 L1477.7 629.5 L1481.0 638.8 L1483.5 644.4 L1486.0 649.2 L1489.3 662.8 L1491.8 662.6 L1494.3 661.5 L1496.8 664.1 L1499.3 667.5 L1501.8 667.2 L1504.3 663.3 L1506.8 662.3 L1509.3 663.2 L1511.8 657.0 L1514.3 655.1 L1516.8 654.8 L1519.3 655.2 L1521.8 651.7 L1524.3 651.3 L1526.7 654.4 L1529.1 658.6 L1531.5 659.4 L1533.9 660.1 L1536.2 662.8 L1538.6 670.1 L1541.0 676.1 L1543.4 677.0 L1545.8 674.1 L1548.1 673.7 L1550.5 676.9 L1552.9 677.3 L1555.3 676.5 L1557.7 679.2 L1560.0 681.2 L1562.4 684.4 L1564.8 687.5 L1567.2 689.5 L1569.6 691.4 L1572.0 693.9 L1574.3 694.9 L1576.7 693.5 L1579.1 692.9 L1581.5 695.2 L1583.9 692.9 L1586.2 693.8 L1588.6 695.3 L1591.0 695.5 L1593.7 688.8 L1596.3 690.9 L1599.0 693.0 L1601.7 691.1 L1604.3 690.0 L1606.8 691.7 L1609.3 698.0" stroke="#9b59d0" stroke-width="6.9"/>
<path d="M230.0 567.9 L233.3 562.1 L236.7 550.8 L240.0 515.0 L241.7 439.6 L243.3 407.6 L246.0 381.0 L248.3 427.9 L250.7 518.3 L253.3 530.1 L256.0 542.5 L258.7 556.1 L262.7 538.7 L266.7 550.4 L269.0 561.1 L271.3 568.6 L273.7 579.5 L276.0 587.7 L278.5 598.1 L281.0 607.9 L284.3 608.7 L287.7 606.6 L290.5 606.3 L293.3 600.5 L297.3 587.7 L301.0 602.4 L305.0 601.1 L307.8 602.2 L310.6 595.1 L313.3 594.4 L315.7 591.6 L318.1 590.6 L320.5 588.9 L322.9 589.8 L325.2 587.5 L327.6 586.8 L330.0 586.1 L332.7 585.2 L335.3 591.8 L338.0 593.0 L340.7 592.9 L343.3 596.4 L346.7 597.4 L350.0 596.8 L352.5 591.9 L355.0 589.9 L357.5 596.1 L360.0 603.4 L362.5 613.6 L365.0 626.6 L367.5 594.0 L370.0 563.5 L372.5 567.2 L375.0 569.6 L377.5 560.3 L380.0 552.7 L382.5 554.8 L385.0 558.0 L387.5 561.4 L390.0 563.1 L392.5 569.2 L395.0 573.2 L397.5 578.2 L400.0 580.8 L402.7 587.7 L405.3 591.5 L408.0 595.8 L410.7 595.5 L413.3 600.0 L416.7 606.9 L420.0 611.6 L423.3 628.7 L426.7 643.7 L429.2 633.5 L431.7 628.6 L434.2 639.5 L436.7 643.8 L440.0 641.2 L443.3 637.9 L445.8 637.2 L448.3 630.6 L450.8 623.7 L453.3 619.7 L455.8 631.0 L458.3 636.8 L460.8 638.3 L463.3 639.3 L465.8 661.0 L468.3 677.7 L470.8 685.7 L473.3 692.9 L475.8 698.9 L478.3 703.0 L480.8 701.7 L483.3 702.1 L485.8 699.3 L488.3 694.1 L490.8 692.3 L493.3 692.7 L495.8 688.3 L498.3 683.4 L500.8 680.2 L503.3 681.6 L505.8 673.7 L508.3 669.5 L510.8 667.7 L513.3 664.8 L516.7 670.2 L520.0 673.6 L522.5 672.9 L525.0 669.8 L527.3 674.4 L529.7 676.0 L532.0 676.0 L534.3 672.6 L536.7 676.9 L539.2 682.5 L541.7 690.5 L544.2 697.1 L546.7 703.2 L549.3 708.8 L552.0 710.8 L554.7 715.1 L557.3 714.7 L560.0 717.7 L562.7 721.7 L565.3 722.1 L568.0 721.4 L570.7 721.9 L573.3 723.4 L575.7 729.0 L578.0 735.2 L580.3 739.5 L582.7 745.0 L585.0 750.1 L587.4 733.0 L589.8 718.6 L592.2 702.2 L594.6 684.5 L597.0 668.5 L597.0 668.1 L599.5 669.8 L602.0 670.4 L604.5 670.7 L607.0 674.2 L609.5 676.4 L612.0 680.6 L614.5 681.6 L617.0 684.9 L619.7 689.2 L622.3 692.2 L625.0 697.0 L627.7 699.8 L630.3 703.9 L632.8 707.1 L635.2 708.3 L637.6 708.8 L640.0 708.6 L642.5 711.8 L644.9 715.7 L647.3 710.9 L649.7 715.6 L652.2 716.5 L654.6 719.0 L657.0 720.8 L659.3 716.0 L661.7 718.2 L664.0 714.1 L666.3 712.5 L668.7 712.5 L671.0 710.4 L673.3 709.4 L675.7 706.9 L678.0 704.3 L680.3 704.4 L682.8 709.6 L685.3 719.9 L687.8 724.1 L690.3 730.8 L693.7 728.6 L697.0 727.8 L700.3 721.7 L703.7 719.5 L707.0 721.3 L710.3 726.3 L713.7 737.4 L716.2 726.1 L718.7 717.8 L721.2 714.1 L723.7 712.5 L726.2 719.8 L728.7 726.0 L731.2 726.6 L733.7 729.7 L736.2 735.6 L738.7 733.8 L741.2 734.7 L743.7 735.3 L746.2 736.7 L748.7 738.0 L751.2 738.9 L753.7 740.4 L756.2 739.6 L758.7 746.6 L761.2 746.9 L763.7 746.2 L766.3 749.1 L769.0 750.7 L771.7 748.2 L774.3 749.5 L777.0 753.6 L779.7 749.7 L782.3 746.1 L785.0 743.6 L787.7 738.6 L790.3 734.5 L792.8 737.0 L795.3 734.5 L797.8 733.7 L800.3 734.3 L802.8 733.2 L805.3 730.5 L807.8 734.5 L810.3 732.2 L812.7 737.1 L815.1 738.1 L817.5 737.8 L819.9 743.4 L822.2 743.9 L824.6 744.6 L827.0 747.8 L829.3 744.9 L831.7 748.5 L834.0 747.9 L836.3 748.8 L838.7 748.2 L841.0 750.8 L843.3 751.3 L845.7 752.9 L848.0 754.6 L850.3 753.0 L852.7 752.5 L855.0 752.9 L857.3 751.4 L859.7 751.7 L862.0 754.1 L864.3 752.4 L866.7 750.4 L869.0 752.6 L871.3 754.5 L873.7 757.3 L876.0 754.1 L878.3 752.6 L880.7 753.6 L883.0 753.2 L885.3 753.5 L887.7 752.2 L890.0 752.7 L892.3 751.3 L894.7 753.2 L897.0 752.4 L899.5 755.3 L902.0 756.2 L904.5 756.6 L907.0 760.9 L909.5 763.8 L912.0 768.3 L914.5 771.2 L917.0 772.1 L919.5 770.0 L922.0 766.6 L924.5 766.0 L927.0 765.1 L929.5 761.8 L932.0 757.9 L934.5 758.9 L937.0 753.8 L939.5 754.8 L942.0 752.5 L944.5 750.7 L947.0 744.5 L949.4 742.9 L951.8 737.2 L954.1 735.1 L956.5 730.6 L958.9 728.6 L961.3 726.3 L963.7 726.0 L966.0 727.9 L968.4 726.8 L970.8 727.3 L973.2 727.0 L975.6 727.3 L978.0 727.0 L980.3 730.1 L982.7 728.3 L985.1 722.8 L987.5 720.4 L989.9 714.5 L992.2 710.3 L994.6 707.2 L997.0 705.9 L999.4 702.4 L1001.9 702.1 L1004.3 698.9 L1006.7 695.4 L1009.1 691.5 L1011.6 691.5 L1014.0 689.6 L1014.0 689.4 L1016.4 693.3 L1018.8 694.4 L1021.1 692.0 L1023.5 696.0 L1025.9 697.4 L1028.3 692.9 L1030.7 695.2 L1033.0 695.8 L1035.4 691.6 L1037.8 690.5 L1040.2 690.8 L1042.6 689.1 L1045.0 687.6 L1047.3 686.1 L1049.7 682.9 L1052.1 686.5 L1054.5 683.9 L1056.9 685.1 L1059.2 680.9 L1061.6 680.3 L1064.0 679.1 L1066.4 680.1 L1068.8 682.5 L1071.1 684.5 L1073.5 687.3 L1075.9 688.7 L1078.3 690.0 L1080.7 692.4 L1083.2 695.8 L1085.7 695.7 L1088.2 697.8 L1090.7 698.8 L1093.2 696.9 L1095.7 699.2 L1098.2 701.0 L1100.7 701.9 L1103.0 704.9 L1105.4 705.2 L1107.8 710.0 L1110.2 711.4 L1112.6 716.0 L1115.0 717.4 L1117.3 716.5 L1120.0 712.0 L1122.7 707.3 L1125.3 701.0 L1128.0 695.9 L1130.7 689.5 L1133.0 684.0 L1135.4 680.0 L1137.8 673.8 L1140.2 670.4 L1142.6 660.1 L1145.0 655.1 L1147.3 650.3 L1150.0 640.2 L1152.7 627.2 L1155.3 613.4 L1158.0 600.3 L1160.7 588.0 L1163.2 599.4 L1165.7 610.1 L1168.2 622.7 L1170.7 633.8 L1173.3 645.5 L1176.0 657.9 L1178.7 668.1 L1181.3 680.1 L1184.0 690.8 L1186.4 684.4 L1188.8 678.9 L1191.1 677.4 L1193.5 672.5 L1195.9 669.0 L1198.3 663.1 L1200.7 658.2 L1203.3 660.6 L1206.0 661.7 L1208.7 666.2 L1211.3 668.4 L1214.0 669.4 L1216.7 663.5 L1219.3 660.2 L1222.0 658.1 L1224.7 656.6 L1227.3 651.9 L1230.7 649.9 L1234.0 649.0 L1237.3 650.2 L1240.7 651.3 L1244.0 642.9 L1247.3 639.5 L1250.7 643.4 L1254.0 647.4 L1257.3 644.4 L1260.7 639.2 L1264.0 639.7 L1267.3 640.9 L1270.7 649.2 L1274.0 652.5 L1277.3 654.2 L1280.7 659.4 L1284.0 664.6 L1287.3 671.0 L1290.7 676.3 L1293.2 676.4 L1295.7 680.3 L1298.2 679.1 L1300.7 677.4 L1304.0 674.3 L1307.3 667.9 L1310.7 666.6 L1314.0 659.5 L1316.4 663.0 L1318.8 660.9 L1321.1 661.2 L1323.5 663.1 L1325.9 662.0 L1328.3 661.1 L1330.7 663.1 L1333.0 663.3 L1335.4 660.8 L1337.8 664.0 L1340.2 661.7 L1342.6 661.0 L1345.0 661.1 L1347.3 661.2 L1349.7 664.4 L1352.1 661.3 L1354.5 664.8 L1356.9 668.2 L1359.2 669.2 L1361.6 670.0 L1364.0 669.6 L1367.3 676.4 L1370.7 680.6 L1374.0 684.7 L1377.3 686.3 L1380.7 682.0 L1384.0 677.5 L1387.3 673.8 L1390.7 675.6 L1394.0 675.6 L1397.3 674.3 L1399.8 674.1 L1402.3 673.7 L1404.8 672.0 L1407.3 669.5 L1409.8 670.8 L1412.3 669.7 L1414.8 669.2 L1417.3 673.9 L1420.1 674.3 L1422.8 673.5 L1425.5 672.8 L1428.3 669.9 L1431.0 668.3 L1431.0 664.3 L1433.7 662.3 L1436.3 663.5 L1439.0 660.4 L1441.7 658.7 L1444.3 657.8 L1447.0 652.6 L1449.7 644.0 L1452.3 639.5 L1455.0 634.6 L1457.7 624.9 L1461.0 633.9 L1464.3 639.5 L1466.8 643.8 L1469.3 654.0 L1471.8 659.5 L1474.3 665.9 L1477.0 671.2 L1479.7 668.7 L1482.3 674.7 L1485.0 680.7 L1487.7 685.7 L1491.0 684.6 L1494.3 684.6 L1496.7 682.0 L1499.1 680.9 L1501.5 678.7 L1503.9 674.6 L1506.2 675.3 L1508.6 673.8 L1511.0 673.0 L1513.4 672.0 L1515.8 670.7 L1518.1 670.2 L1520.5 668.8 L1522.9 666.9 L1525.3 664.9 L1527.7 664.1 L1530.3 670.0 L1533.0 676.3 L1535.7 684.8 L1538.3 689.7 L1541.0 694.3 L1544.3 687.9 L1547.7 684.7 L1551.0 683.1 L1554.3 689.4 L1557.1 694.1 L1559.9 695.1 L1562.7 697.2 L1565.4 699.6 L1568.2 701.3 L1571.0 698.9 L1573.4 699.2 L1575.8 698.6 L1578.1 696.2 L1580.5 699.1 L1582.9 698.2 L1585.3 695.1 L1587.7 694.4 L1590.3 692.3 L1592.9 690.7 L1595.5 689.4 L1598.1 690.3 L1600.8 687.9 L1603.4 685.5 L1606.0 683.4 L1610.3 689.7" stroke="#2ecc71" stroke-width="4.8"/>
<path d="M195.0 612.3 L198.3 627.6 L201.7 649.2 L205.0 666.4 L207.5 659.6 L210.0 652.5 L213.3 631.4 L216.7 641.5 L220.0 595.9 L223.3 603.9 L226.7 615.7 L230.0 586.3 L233.3 526.3 L233.3 519.6 L235.0 454.9 L237.3 435.5 L239.3 339.4 L243.3 226.2 L245.7 230.5 L249.3 280.3 L251.7 379.2 L254.0 378.3 L257.3 468.0 L259.3 374.4 L262.3 269.7 L265.3 352.3 L268.3 297.1 L270.7 358.6 L273.3 488.0 L275.7 504.7 L276.7 522.7 L277.3 519.3 L278.3 560.6 L281.7 598.5 L284.2 605.5 L286.7 608.6 L290.0 581.4 L293.3 540.9 L295.7 514.2 L296.7 519.8 L298.3 485.2 L300.7 461.9 L303.3 509.1 L306.0 473.0 L308.3 427.4 L310.7 398.8 L313.3 338.8 L315.7 387.1 L317.7 339.7 L320.0 391.5 L324.0 452.6 L326.7 360.3 L329.3 316.7 L331.7 280.4 L334.0 320.4 L335.3 429.3 L338.3 446.3 L341.0 460.4 L343.3 460.1 L345.3 482.3 L347.3 472.1 L349.3 516.7 L350.7 486.1 L353.3 466.5 L356.0 481.0 L358.3 462.4 L360.7 447.0 L363.3 475.6 L366.0 449.4 L368.3 479.0 L371.7 485.8 L374.3 517.1 L375.0 519.5 L376.7 551.0 L380.0 557.7 L380.0 521.4 L382.3 508.4 L383.3 534.7 L384.0 515.1 L386.7 521.6 L390.0 518.6 L391.7 472.7 L393.3 418.7 L395.7 422.5 L398.3 372.8 L401.7 377.5 L404.3 408.3 L407.3 355.0 L411.7 296.8 L414.3 308.8 L416.0 335.0 L418.3 334.5 L421.0 227.9 L423.3 225.3 L426.0 361.1 L428.3 420.9 L431.7 395.3 L434.0 449.1 L436.0 492.4 L436.7 522.5 L438.3 539.1 L438.3 521.2 L441.1 526.4 L443.9 532.7 L446.7 540.5 L446.7 522.8 L448.3 526.1 L449.3 473.7 L451.7 434.8 L454.0 455.0 L458.3 457.4 L460.7 474.1 L463.3 501.7 L465.0 519.7 L467.3 520.6 L470.0 617.8 L473.3 640.9 L476.7 647.1 L480.0 651.2 L482.5 648.9 L485.0 644.3 L488.3 654.6 L491.7 702.5 L494.2 710.8 L496.7 710.9 L499.2 693.6 L501.7 683.1 L505.0 616.1 L507.5 617.4 L510.0 617.7 L512.5 621.5 L515.0 628.3 L517.5 619.5 L520.0 616.7 L522.5 605.4 L525.0 597.8 L527.5 601.4 L530.0 594.2 L533.3 571.6 L536.7 563.0 L540.0 585.7 L543.3 629.3 L546.7 648.3 L549.2 661.8 L551.7 676.6 L554.2 669.3 L556.7 668.3 L559.2 673.6 L561.7 686.5 L564.2 683.5 L566.7 683.6 L569.2 692.6 L571.7 705.1 L574.4 709.5 L577.2 714.9 L580.0 718.2 L583.3 723.5 L586.7 730.2 L590.0 693.0 L593.3 655.6 L597.0 602.2 L597.0 581.4 L600.3 603.9 L602.8 609.2 L605.3 604.0 L607.8 615.5 L610.3 632.7 L612.8 632.4 L615.3 631.4 L617.8 647.2 L620.3 662.8 L623.7 667.6 L627.0 681.0 L629.8 679.0 L632.6 678.9 L635.3 674.5 L637.8 679.9 L640.3 681.6 L642.8 668.6 L645.3 669.4 L647.8 678.0 L650.3 679.4 L652.8 689.8 L655.3 697.7 L657.8 708.4 L660.3 716.3 L663.0 712.2 L665.7 706.6 L668.3 698.4 L671.0 691.3 L673.7 681.0 L676.2 682.5 L678.7 677.6 L681.2 677.3 L683.7 673.9 L686.2 678.6 L688.7 672.9 L691.2 675.1 L693.7 672.4 L696.3 678.3 L699.0 686.4 L701.7 691.8 L704.3 703.2 L707.0 705.9 L710.3 711.0 L713.7 708.3 L717.0 694.8 L720.3 685.4 L723.1 679.7 L725.9 683.7 L728.7 680.2 L731.2 682.2 L733.7 688.8 L736.2 686.5 L738.7 686.5 L741.2 683.7 L743.7 685.4 L746.3 690.3 L749.0 688.9 L751.7 695.5 L754.3 698.8 L757.0 699.7 L759.5 698.4 L762.0 702.0 L764.5 704.2 L767.0 711.8 L770.3 717.0 L773.7 718.3 L776.3 716.2 L779.0 714.6 L781.7 713.8 L784.3 708.6 L787.0 705.6 L790.3 709.8 L793.7 711.1 L796.3 708.2 L799.0 704.3 L801.7 702.5 L804.3 699.3 L807.0 693.9 L809.7 704.2 L812.3 710.1 L815.0 713.2 L817.7 718.6 L820.3 723.1 L822.7 722.2 L825.1 723.3 L827.5 723.5 L829.9 725.9 L832.2 729.4 L834.6 730.3 L837.0 728.2 L840.3 740.0 L843.7 749.6 L846.2 747.6 L848.7 751.2 L851.2 747.1 L853.7 749.5 L856.2 744.0 L858.7 746.0 L861.2 743.9 L863.7 746.3 L866.2 744.4 L868.7 740.1 L871.2 740.7 L873.7 741.1 L876.2 740.2 L878.7 739.0 L881.2 733.6 L883.7 736.2 L886.2 734.1 L888.7 736.1 L891.2 735.5 L893.7 739.9 L896.2 740.3 L898.7 745.5 L901.2 744.8 L903.7 754.2 L906.2 760.7 L908.7 769.0 L911.2 775.2 L913.7 779.6 L916.4 785.1 L919.2 790.0 L922.0 790.9 L924.8 783.2 L927.6 777.2 L930.3 772.8 L932.7 766.0 L935.1 765.3 L937.5 761.5 L939.9 761.2 L942.2 759.1 L944.6 752.6 L947.0 748.4 L949.7 750.4 L952.3 747.7 L955.0 742.2 L957.7 740.1 L960.3 735.5 L963.7 744.3 L967.0 750.9 L969.5 757.4 L972.0 765.4 L974.5 770.8 L977.0 775.5 L979.7 759.6 L982.3 747.3 L985.0 731.2 L987.7 717.4 L990.3 704.8 L993.0 699.7 L995.7 699.1 L998.3 692.9 L1001.0 696.5 L1003.7 694.0 L1006.2 694.5 L1008.8 693.6 L1011.4 694.8 L1014.0 696.4 L1014.0 716.7 L1016.5 720.7 L1019.0 729.3 L1022.3 730.4 L1025.7 735.8 L1029.0 714.6 L1031.3 710.2 L1033.7 699.0 L1036.0 691.9 L1038.3 692.1 L1040.7 687.1 L1043.0 683.9 L1045.4 679.5 L1047.8 674.5 L1050.2 674.5 L1052.6 669.1 L1055.0 664.4 L1057.3 656.6 L1060.7 663.0 L1064.0 671.0 L1066.8 673.5 L1069.6 677.4 L1072.3 678.4 L1075.1 683.1 L1077.9 684.0 L1080.7 687.4 L1083.4 688.0 L1086.2 688.0 L1089.0 682.0 L1091.3 683.1 L1093.7 684.8 L1096.0 686.8 L1098.3 689.3 L1100.7 693.3 L1103.3 695.4 L1106.0 697.1 L1108.7 700.5 L1111.3 698.5 L1114.0 703.3 L1116.7 706.0 L1119.3 698.3 L1122.0 695.1 L1124.7 694.2 L1127.3 693.6 L1130.0 683.5 L1132.7 673.1 L1135.3 670.1 L1138.0 655.1 L1140.7 648.1 L1143.2 636.3 L1145.7 620.5 L1148.2 615.1 L1150.7 606.0 L1153.2 587.0 L1155.7 574.9 L1158.2 562.9 L1160.7 552.6 L1163.2 568.0 L1165.7 586.0 L1168.2 602.8 L1170.7 618.2 L1173.2 633.2 L1175.7 651.2 L1178.2 664.4 L1180.7 679.9 L1183.2 677.7 L1185.7 678.1 L1188.2 679.6 L1190.7 676.1 L1193.2 671.6 L1195.7 667.9 L1198.2 668.9 L1200.7 663.5 L1203.3 666.1 L1206.0 671.8 L1208.7 668.9 L1211.3 672.0 L1214.0 669.5 L1216.7 653.0 L1219.3 638.7 L1222.0 620.5 L1224.7 600.9 L1227.3 589.5 L1229.8 585.9 L1232.3 584.5 L1235.1 597.9 L1237.9 605.1 L1240.7 608.8 L1243.3 614.2 L1246.0 612.8 L1248.7 613.4 L1251.3 625.0 L1254.0 623.5 L1256.5 622.8 L1259.0 629.6 L1261.5 633.8 L1264.0 638.8 L1266.5 641.2 L1269.0 644.2 L1271.5 649.8 L1274.0 651.5 L1276.4 652.6 L1278.8 657.4 L1281.1 658.8 L1283.5 664.9 L1285.9 666.4 L1288.3 668.3 L1290.7 670.4 L1293.2 673.3 L1295.7 675.6 L1298.2 674.0 L1300.7 669.9 L1304.0 671.7 L1307.3 666.5 L1309.8 666.4 L1312.3 662.0 L1314.8 661.2 L1317.3 657.7 L1319.8 660.3 L1322.3 662.9 L1324.8 669.3 L1327.3 674.7 L1330.7 672.7 L1334.0 671.6 L1336.8 673.9 L1339.6 676.9 L1342.3 669.3 L1344.8 668.2 L1347.3 665.4 L1349.8 663.6 L1352.3 668.6 L1354.8 662.6 L1357.3 664.4 L1359.7 664.4 L1362.1 668.4 L1364.5 672.7 L1366.9 671.9 L1369.2 671.6 L1371.6 675.7 L1374.0 674.8 L1376.4 670.1 L1378.8 675.5 L1381.1 672.7 L1383.5 673.1 L1385.9 677.4 L1388.3 675.5 L1390.7 673.2 L1393.0 675.2 L1395.4 669.8 L1397.8 666.0 L1400.2 665.8 L1402.6 668.1 L1405.0 668.8 L1407.3 666.6 L1410.0 671.1 L1412.7 668.6 L1415.3 665.5 L1418.0 661.6 L1420.7 660.9 L1423.2 661.1 L1425.8 659.1 L1428.4 665.2 L1431.0 664.4 L1431.0 667.1 L1434.3 661.3 L1437.7 655.8 L1441.0 649.5 L1444.3 652.8 L1447.7 653.6 L1451.0 660.1 L1453.5 654.7 L1456.0 645.6 L1458.8 646.4 L1461.6 645.3 L1464.3 644.1 L1466.8 650.2 L1469.3 656.5 L1471.8 661.8 L1474.3 669.8 L1477.7 676.5 L1481.0 681.6 L1484.3 691.2 L1487.7 700.6 L1491.0 713.7 L1494.3 704.1 L1496.0 681.7 L1498.8 679.7 L1501.6 674.9 L1504.3 677.0 L1507.1 676.9 L1509.9 679.6 L1512.7 686.8 L1516.0 682.0 L1519.3 670.6 L1522.7 676.2 L1526.0 665.4 L1528.5 673.2 L1531.0 680.8 L1533.5 686.3 L1536.0 696.2 L1538.5 698.2 L1541.0 702.3 L1543.5 698.0 L1546.0 694.5 L1548.5 698.7 L1551.0 702.6 L1553.3 706.0 L1555.7 709.2 L1558.0 704.9 L1560.3 705.5 L1562.7 710.8 L1565.4 706.4 L1568.2 705.8 L1571.0 710.1 L1573.8 710.2 L1576.6 707.0 L1579.3 707.5 L1581.8 707.0 L1584.3 708.7 L1587.7 719.9 L1591.0 718.0 L1594.3 715.0 L1596.8 716.4 L1599.3 714.0 L1601.8 720.0 L1604.3 720.7 L1606.8 722.5 L1609.3 728.0" stroke="#00b0f0" stroke-width="5.0"/>
<path d="M498.3 578.4 L501.7 574.7 L505.0 532.9 L508.3 549.8 L512.3 531.3 L515.0 558.0 L518.3 594.2 L520.8 597.8 L523.3 614.2 L525.8 606.4 L528.3 616.2 L531.7 659.8 L535.0 691.3 L537.5 702.6 L540.0 717.2 L542.5 736.3 L545.0 755.1 L548.3 799.8 L549.1 798.9 L551.6 800.1 L552.7 795.6 L555.0 769.5 L558.3 750.2 L561.7 763.9 L564.2 749.8 L566.7 737.5 L569.2 726.3 L571.7 718.5 L575.0 709.2 L578.3 703.1 L581.7 693.8 L585.0 690.4 L588.3 625.1 L590.8 586.7 L593.3 556.0 L596.0 526.0 L597.0 543.0 L600.3 573.6 L603.7 596.1 L607.0 525.5 L610.3 568.4 L613.7 552.7 L616.2 575.1 L618.7 588.4 L622.0 569.3 L625.3 594.5 L627.8 595.4 L630.3 591.3 L633.7 577.7 L637.0 605.2 L640.3 635.4 L642.8 606.7 L645.3 587.6 L647.8 598.7 L650.3 613.0 L653.7 597.5 L657.0 627.3 L659.5 625.1 L662.0 617.9 L665.3 584.5 L666.3 517.9 L667.0 521.2 L667.7 473.5 L669.3 425.6 L673.0 424.0 L674.3 375.1 L676.3 398.5 L678.3 343.2 L680.3 399.1 L682.0 438.8 L683.7 466.7 L685.3 519.7 L685.7 472.2 L687.7 540.2 L687.7 516.6 L690.3 516.3 L692.0 519.4 L693.7 484.1 L696.0 436.0 L698.7 438.0 L701.0 432.5 L703.3 412.0 L705.3 449.1 L707.7 452.9 L710.3 436.1 L712.7 435.6 L714.3 470.2 L716.3 453.7 L718.0 379.1 L720.3 363.8 L722.0 320.0 L723.7 293.0 L725.3 378.0 L726.3 426.0 L730.3 421.0 L733.0 471.6 L734.7 503.4 L737.0 519.8 L737.0 486.6 L738.7 547.9 L738.7 516.3 L741.0 588.9 L743.7 627.6 L746.2 638.1 L748.7 646.1 L753.0 625.7 L757.0 667.1 L760.3 706.0 L762.7 768.8 L765.3 777.8 L768.7 768.4 L772.0 779.2 L773.7 692.7 L776.2 667.5 L778.7 654.5 L783.0 640.5 L785.3 667.8 L788.7 662.6 L792.0 706.9 L795.3 703.1 L797.0 650.4 L800.3 624.2 L803.7 617.9 L807.7 567.2 L810.3 597.5 L813.7 601.2 L815.3 628.6 L818.7 649.4 L821.2 654.3 L823.7 663.9 L827.0 631.4 L829.5 626.6 L832.0 627.2 L835.3 648.8 L837.8 665.9 L840.3 675.7 L842.8 686.1 L845.3 692.0 L848.7 683.8 L852.0 730.0 L855.3 722.0 L858.7 707.4 L861.2 718.1 L863.7 726.6 L866.2 728.3 L868.7 728.2 L871.2 728.1 L873.7 736.6 L877.0 727.3 L880.3 693.0 L883.7 686.4 L887.0 696.3 L889.5 705.6 L892.0 715.3 L894.5 719.5 L897.0 719.1 L900.3 722.8 L903.7 728.7 L907.0 733.9 L910.3 735.3 L912.8 742.5 L915.3 751.2 L917.8 771.0 L920.3 794.4 L923.7 778.4 L927.0 766.6 L929.5 751.5 L932.0 735.3 L934.5 741.3 L937.0 746.2 L939.5 744.2 L942.0 726.9 L944.3 726.0 L946.7 722.9 L949.0 722.2 L951.3 721.7 L953.7 716.9 L956.2 710.5 L958.7 692.8 L961.2 681.7 L963.7 669.6 L966.2 666.2 L968.7 673.1 L972.0 684.0 L975.3 684.9 L978.7 689.0 L981.2 682.1 L983.7 671.4 L986.2 653.4 L988.7 641.6 L991.2 652.3 L993.7 662.6 L997.0 649.0 L1000.3 634.3 L1002.8 640.5 L1005.3 651.9 L1007.8 645.0 L1010.3 633.5 L1014.0 630.2 L1014.0 644.9 L1017.3 589.1 L1020.7 592.7 L1024.0 600.6 L1026.5 607.7 L1029.0 620.9 L1032.3 648.7 L1034.8 658.3 L1037.3 671.1 L1040.7 656.7 L1043.2 666.1 L1045.7 680.9 L1048.2 680.5 L1050.7 679.6 L1053.2 673.1 L1055.7 664.3 L1059.0 637.2 L1061.5 637.0 L1064.0 644.9 L1066.5 650.5 L1069.0 659.8 L1071.5 653.3 L1074.0 642.2 L1077.3 649.5 L1080.7 649.3 L1083.2 659.0 L1085.7 658.8 L1088.2 656.0 L1090.7 648.5 L1093.2 642.4 L1095.7 642.0 L1098.2 645.4 L1100.7 644.4 L1104.0 653.5 L1107.3 654.8 L1110.7 659.0 L1114.0 664.4 L1117.3 673.0 L1119.8 664.5 L1122.3 653.5 L1125.7 654.1 L1129.0 653.7 L1131.5 640.8 L1134.0 625.2 L1138.0 597.4 L1140.7 616.2 L1144.7 573.1 L1148.0 573.2 L1150.7 524.9 L1150.7 520.6 L1153.3 466.7 L1157.3 419.7 L1160.0 404.9 L1161.7 374.1 L1164.7 376.4 L1166.7 425.6 L1169.0 446.6 L1171.3 429.0 L1175.7 454.7 L1177.3 517.7 L1177.3 516.5 L1180.7 537.9 L1180.7 518.2 L1181.7 524.1 L1184.0 557.0 L1186.5 546.2 L1189.0 539.2 L1191.5 545.8 L1194.0 554.1 L1197.3 535.1 L1200.7 541.4 L1204.0 541.5 L1206.5 551.8 L1209.0 567.3 L1211.5 573.9 L1214.0 589.5 L1216.5 588.2 L1219.0 579.1 L1221.5 569.6 L1224.0 563.1 L1227.3 521.0 L1229.0 522.7 L1229.0 497.3 L1231.3 466.9 L1233.0 508.9 L1236.7 500.9 L1240.7 503.3 L1244.0 496.3 L1247.3 499.9 L1249.3 459.6 L1251.3 477.2 L1253.3 474.9 L1255.7 502.3 L1259.0 492.3 L1260.0 502.0 L1262.3 481.5 L1264.7 497.1 L1267.3 503.2 L1269.0 481.7 L1271.3 472.9 L1274.0 486.1 L1276.7 480.1 L1278.3 470.2 L1280.7 492.7 L1284.0 500.7 L1285.7 517.0 L1286.7 511.9 L1290.7 523.2 L1294.0 530.4 L1297.3 537.8 L1300.7 518.4 L1304.0 532.4 L1306.5 527.1 L1309.0 527.0 L1312.3 517.0 L1314.0 519.6 L1315.7 494.8 L1318.3 472.9 L1320.7 498.1 L1322.3 521.1 L1323.0 515.0 L1325.7 550.0 L1328.2 552.3 L1330.7 556.1 L1333.2 546.7 L1335.7 543.3 L1338.2 549.3 L1340.7 551.1 L1344.0 546.4 L1347.3 533.1 L1350.7 545.6 L1354.0 602.7 L1356.5 599.8 L1359.0 596.9 L1362.3 594.2 L1365.7 583.4 L1368.2 592.1 L1370.7 605.1 L1373.2 609.3 L1375.7 614.0 L1378.2 590.1 L1380.7 572.7 L1383.2 560.1 L1385.7 544.4 L1389.0 571.5 L1391.5 578.6 L1394.0 582.5 L1396.5 577.3 L1399.0 576.0 L1402.3 590.2 L1405.7 580.5 L1408.4 578.1 L1411.2 582.2 L1414.0 584.8 L1416.5 576.6 L1419.0 570.9 L1421.5 553.1 L1424.0 539.4 L1427.3 556.3 L1431.0 566.3 L1431.0 575.3 L1433.5 563.9 L1436.0 551.4 L1438.5 555.5 L1441.0 561.8 L1443.5 553.5 L1446.0 540.4 L1448.5 543.2 L1451.0 531.2 L1454.3 520.2 L1456.0 521.8 L1457.0 477.5 L1458.7 436.3 L1461.0 492.8 L1462.7 520.0 L1464.3 516.5 L1466.0 545.5 L1470.3 577.1 L1473.7 559.9 L1477.7 619.8 L1481.0 554.7 L1483.5 559.6 L1486.0 575.0 L1489.3 572.7 L1492.7 615.2 L1495.2 604.3 L1497.7 586.7 L1501.0 611.4 L1504.3 589.1 L1507.7 609.0 L1510.2 574.9 L1512.7 541.0 L1515.2 532.6 L1517.7 533.8 L1521.7 520.5 L1522.7 518.3 L1524.3 500.9 L1527.0 503.3 L1529.3 513.9 L1531.0 516.6 L1533.7 516.6 L1534.3 521.2 L1535.0 523.5 L1537.7 540.8 L1541.0 558.4 L1544.3 550.3 L1548.3 582.3 L1552.7 568.9 L1555.2 581.3 L1557.7 589.4 L1561.7 588.5 L1566.0 610.8 L1568.5 592.3 L1571.0 573.6 L1574.3 571.5 L1577.7 619.7 L1580.2 605.1 L1582.7 602.0 L1585.2 604.2 L1587.7 607.6 L1591.0 618.6 L1593.5 624.1 L1596.0 632.5 L1597.7 649.9 L1600.2 644.9 L1602.7 640.4 L1606.0 660.2 L1608.5 654.9 L1611.0 666.3" stroke="#808080" stroke-width="4.8"/>
<path d="M385.0 570.2 L387.8 569.0 L390.6 563.5 L393.3 561.8 L396.0 557.5 L398.7 558.0 L401.3 555.4 L404.0 555.6 L406.7 553.4 L410.0 553.7 L413.3 554.4 L416.7 558.7 L420.0 561.5 L422.5 558.3 L425.0 558.6 L428.3 527.6 L431.7 520.1 L434.2 523.5 L436.7 521.4 L439.2 517.1 L441.7 519.2 L445.0 490.7 L449.3 460.9 L453.3 485.5 L455.8 502.2 L458.3 519.3 L460.0 521.6 L463.3 550.9 L465.8 559.6 L468.3 572.7 L470.8 573.5 L473.3 576.0 L475.8 575.9 L478.3 574.8 L480.8 587.7 L483.3 595.1 L486.7 609.4 L490.0 621.3 L492.5 613.4 L495.0 605.5 L497.5 596.8 L500.0 591.2 L502.5 598.2 L505.0 603.2 L507.5 604.3 L510.0 606.2 L512.5 608.2 L515.0 606.7 L517.5 619.2 L520.0 627.5 L522.5 615.0 L525.0 599.7 L528.3 587.8 L530.8 598.7 L533.3 611.7 L535.8 624.9 L538.3 638.3 L540.8 653.0 L543.3 663.8 L546.7 645.9 L549.2 652.5 L551.7 659.8 L554.2 640.1 L556.7 622.7 L559.2 632.7 L561.7 638.1 L564.2 643.0 L566.7 648.4 L569.2 652.2 L571.7 655.2 L574.2 663.8 L576.7 672.0 L579.2 683.8 L581.7 692.2 L584.2 695.6 L586.7 697.9 L589.2 673.2 L591.7 647.4 L594.3 640.2 L597.0 630.2 L597.0 626.8 L600.3 625.2 L603.7 623.4 L607.0 631.1 L610.3 638.1 L613.7 639.5 L617.0 646.4 L620.3 656.6 L623.7 665.3 L627.0 672.8 L630.3 681.6 L632.8 680.5 L635.3 684.5 L637.8 687.5 L640.3 691.3 L642.8 695.7 L645.3 698.5 L647.8 699.7 L650.3 701.0 L653.0 702.8 L655.7 704.1 L658.3 704.8 L661.0 706.3 L663.7 705.8 L666.0 697.5 L668.3 686.1 L670.7 681.1 L673.0 673.1 L675.3 668.1 L677.8 686.9 L680.3 704.1 L683.7 709.7 L687.0 715.7 L690.3 714.3 L693.7 713.4 L697.0 713.6 L700.3 710.4 L703.7 714.1 L707.0 718.0 L710.3 716.7 L713.7 717.5 L717.0 711.3 L720.3 705.4 L723.7 709.6 L727.0 711.7 L730.3 703.6 L733.7 699.1 L736.2 699.5 L738.7 703.5 L741.2 704.0 L743.7 707.4 L747.0 714.8 L750.3 719.6 L753.0 718.6 L755.7 718.2 L758.3 720.6 L761.0 724.5 L763.7 725.9 L767.0 721.0 L770.3 722.1 L773.0 724.7 L775.7 728.1 L778.3 732.0 L781.0 731.5 L783.7 735.4 L786.2 736.0 L788.7 738.2 L791.2 737.3 L793.7 735.8 L796.0 741.4 L798.4 747.1 L800.8 749.5 L803.2 752.9 L805.6 757.2 L808.0 760.7 L810.3 764.0 L813.0 764.5 L815.7 768.1 L818.3 766.6 L821.0 767.6 L823.7 770.0 L826.1 769.8 L828.5 764.9 L830.9 764.4 L833.4 763.1 L835.8 764.1 L838.2 760.5 L840.6 760.4 L843.1 762.0 L845.5 762.8 L847.9 760.2 L850.3 761.2 L852.6 762.6 L854.9 758.9 L857.3 760.8 L859.6 758.8 L861.9 754.2 L864.2 756.0 L866.5 755.9 L868.8 757.5 L871.1 754.0 L873.4 756.5 L875.7 753.7 L878.0 753.2 L880.3 751.4 L882.7 753.2 L885.1 755.5 L887.5 754.9 L889.9 754.6 L892.2 757.0 L894.6 757.0 L897.0 758.5 L899.4 760.7 L901.8 760.7 L904.1 761.7 L906.5 762.4 L908.9 763.1 L911.3 765.2 L913.7 767.1 L916.1 766.5 L918.5 763.5 L920.9 763.5 L923.4 767.5 L925.8 770.2 L928.2 771.2 L930.6 769.1 L933.1 770.0 L935.5 769.5 L937.9 771.2 L940.3 771.4 L943.0 767.0 L945.6 766.2 L948.2 763.0 L950.8 763.4 L953.4 760.0 L956.0 752.7 L958.7 752.4 L961.2 741.9 L963.7 733.4 L967.0 730.7 L970.3 737.5 L973.7 752.3 L976.2 762.3 L978.7 770.8 L981.4 766.4 L984.2 755.0 L987.0 752.5 L989.5 745.3 L992.0 738.7 L994.5 733.1 L997.0 725.6 L999.5 721.0 L1002.0 713.6 L1004.5 718.5 L1007.0 721.1 L1009.3 721.1 L1011.7 719.2 L1014.0 718.1 L1014.0 747.1 L1016.5 746.5 L1019.0 745.5 L1021.5 746.5 L1024.0 749.9 L1026.5 749.5 L1029.0 750.4 L1031.5 750.4 L1034.0 752.8 L1036.5 749.8 L1039.0 745.4 L1041.5 746.6 L1044.0 746.5 L1046.5 748.7 L1049.0 745.6 L1051.5 744.6 L1054.0 745.4 L1056.4 746.5 L1058.8 745.3 L1061.3 747.7 L1063.7 746.0 L1066.1 746.6 L1068.5 745.3 L1071.0 743.0 L1073.4 745.0 L1075.8 745.9 L1078.2 745.9 L1080.7 751.3 L1083.1 746.7 L1085.5 748.8 L1087.9 751.2 L1090.4 750.8 L1092.8 750.4 L1095.2 748.6 L1097.6 748.2 L1100.1 751.1 L1102.5 752.6 L1104.9 749.7 L1107.3 750.5 L1109.8 749.8 L1112.3 750.6 L1114.8 748.4 L1117.3 750.3 L1119.8 748.6 L1122.3 749.0 L1124.8 747.4 L1127.3 749.5 L1130.7 746.4 L1134.0 745.7 L1136.8 743.9 L1139.6 744.0 L1142.3 742.6 L1144.8 740.8 L1147.3 731.6 L1150.7 719.5 L1154.0 704.4 L1156.8 694.9 L1159.6 682.1 L1162.3 676.0 L1164.8 683.1 L1167.3 698.4 L1170.7 704.1 L1174.0 713.6 L1176.7 715.9 L1179.3 715.0 L1182.0 717.0 L1184.7 717.5 L1187.3 717.1 L1190.0 716.5 L1192.7 716.6 L1195.3 713.4 L1198.0 710.6 L1200.7 708.5 L1203.3 709.5 L1206.0 712.9 L1208.7 714.2 L1211.3 713.9 L1214.0 715.6 L1216.8 715.7 L1219.6 718.8 L1222.3 721.8 L1225.1 715.9 L1227.9 710.2 L1230.7 706.3 L1234.0 703.1 L1237.3 699.6 L1240.7 697.3 L1244.0 702.4 L1247.3 697.6 L1250.7 693.4 L1254.0 697.8 L1257.3 702.3 L1260.1 701.9 L1262.9 709.8 L1265.7 712.8 L1269.0 713.2 L1272.3 713.1 L1275.1 712.0 L1277.9 716.3 L1280.7 713.9 L1283.0 714.3 L1285.3 714.6 L1287.7 715.1 L1290.0 719.6 L1292.3 720.2 L1294.7 716.1 L1297.0 715.4 L1299.3 719.2 L1301.7 718.6 L1304.0 716.7 L1306.4 715.5 L1308.8 716.7 L1311.3 714.4 L1313.7 713.1 L1316.1 717.9 L1318.5 713.3 L1321.0 708.9 L1323.4 709.0 L1325.8 705.7 L1328.2 704.4 L1330.7 703.6 L1333.4 700.8 L1336.2 701.1 L1339.0 699.7 L1341.5 700.4 L1344.0 702.8 L1346.5 698.6 L1349.0 691.9 L1352.3 711.9 L1355.1 712.6 L1357.9 709.9 L1360.7 711.3 L1364.0 707.6 L1367.3 705.7 L1370.7 710.7 L1374.0 716.1 L1377.3 720.5 L1380.7 719.5 L1383.2 720.1 L1385.7 715.9 L1388.2 717.0 L1390.7 718.6 L1394.0 717.8 L1397.3 720.0 L1399.8 718.4 L1402.3 718.9 L1404.8 712.8 L1407.3 709.8 L1410.7 713.9 L1414.0 716.6 L1417.3 712.7 L1420.7 707.8 L1423.2 703.3 L1425.7 701.8 L1428.3 699.7 L1431.0 700.5 L1431.0 701.7 L1434.3 701.7 L1437.7 697.6 L1440.2 693.2 L1442.7 690.8 L1446.0 695.8 L1449.3 701.9 L1452.7 691.4 L1456.0 682.6 L1458.8 684.4 L1461.6 689.3 L1464.3 689.4 L1467.7 690.5 L1471.0 693.7 L1473.5 691.1 L1476.0 688.5 L1478.5 695.2 L1481.0 697.5 L1483.5 702.8 L1486.0 708.3 L1489.3 708.0 L1492.7 707.8 L1496.0 709.0 L1499.3 708.3 L1501.8 714.5 L1504.3 715.9 L1507.1 714.9 L1509.9 709.6 L1512.7 711.9 L1516.0 703.7 L1519.3 692.3 L1522.7 690.5 L1526.0 689.8 L1528.5 694.9 L1531.0 698.7 L1533.5 707.0 L1536.0 713.3 L1539.3 721.6 L1542.7 703.4 L1545.2 702.8 L1547.7 705.7 L1550.2 707.6 L1552.7 708.8 L1555.2 708.8 L1557.7 710.8 L1560.2 707.2 L1562.7 706.6 L1565.4 707.5 L1568.2 708.5 L1571.0 706.7 L1573.5 705.9 L1576.0 706.8 L1578.5 702.7 L1581.0 701.8 L1583.5 701.6 L1586.0 705.8 L1588.5 704.2 L1591.0 707.8 L1593.5 709.8 L1596.0 705.2 L1598.5 701.7 L1601.0 700.2 L1603.8 700.2 L1606.6 699.4 L1609.3 699.7" stroke="#ff6384" stroke-width="4.9"/>
<path d="M193.3 666.5 L193.3 709.7 L196.1 709.0 L198.9 712.4 L201.7 713.0 L204.4 708.2 L207.2 706.5 L210.0 700.6 L212.5 689.1 L215.0 679.0 L218.3 653.1 L220.8 648.5 L223.3 645.6 L225.8 635.3 L228.3 627.2 L230.8 605.5 L233.3 582.7 L236.7 515.4 L238.3 535.1 L240.7 478.8 L244.0 461.1 L246.7 458.1 L249.3 466.6 L251.7 551.2 L251.7 491.6 L254.0 517.4 L256.7 594.8 L259.2 580.7 L261.7 563.9 L265.0 580.6 L268.3 571.8 L270.8 598.2 L273.3 621.4 L275.8 641.8 L278.3 665.2 L281.1 665.3 L283.9 671.6 L286.7 675.2 L289.2 666.1 L291.7 658.5 L294.2 640.5 L296.7 622.9 L299.2 628.2 L301.7 634.0 L305.0 622.0 L308.3 609.8 L310.8 597.5 L313.3 583.5 L317.3 574.0 L320.3 580.0 L323.3 589.3 L325.8 576.1 L328.3 561.4 L332.3 551.2 L336.7 572.0 L340.0 586.8 L343.3 600.3 L346.3 614.8 L349.3 622.6 L353.3 608.8 L356.7 610.6 L360.0 614.3 L362.5 610.3 L365.0 608.5 L367.8 596.7 L370.7 587.5 L373.7 596.6 L376.7 607.2 L379.2 591.5 L381.7 584.3 L384.2 598.8 L386.7 611.2 L390.0 582.5 L393.3 552.5 L395.8 562.5 L398.3 568.9 L401.7 576.3 L405.0 584.4 L408.3 572.6 L411.7 561.0 L414.2 570.1 L416.7 583.6 L420.7 567.9 L423.7 588.6 L426.7 616.3 L429.2 602.3 L431.7 588.3 L434.2 601.1 L436.7 614.4 L440.0 608.4 L443.3 602.7 L446.1 591.7 L448.9 581.9 L451.7 575.4 L454.4 580.5 L457.2 584.4 L460.0 594.1 L463.3 611.5 L466.7 627.8 L470.0 644.7 L473.3 664.6 L476.7 668.6 L480.0 673.0 L482.5 670.8 L485.0 670.0 L488.3 684.0 L491.7 694.4 L495.0 682.7 L498.3 674.9 L501.7 654.8 L505.0 635.8 L507.5 644.9 L510.0 651.7 L512.5 646.3 L515.0 641.2 L518.3 649.8 L521.7 661.8 L524.4 661.6 L527.2 658.8 L530.0 656.3 L532.8 659.9 L535.6 663.0 L538.3 666.6 L540.8 678.7 L543.3 690.0 L546.7 695.4 L550.0 699.0 L552.4 697.8 L554.9 694.7 L557.3 689.8 L559.7 690.4 L562.0 695.3 L564.3 700.0 L566.7 700.7 L569.2 703.9 L571.7 707.0 L574.2 711.9 L576.7 713.6 L579.4 721.2 L582.2 725.7 L585.0 732.5 L587.5 708.4 L590.0 684.5 L592.3 668.2 L594.7 654.3 L597.0 639.8 L597.0 643.9 L600.3 648.6 L603.7 651.8 L607.0 655.6 L610.3 661.6 L613.7 664.4 L617.0 664.9 L620.3 670.8 L623.7 677.3 L627.0 684.7 L630.3 690.6 L633.7 692.1 L637.0 696.5 L639.8 694.7 L642.6 693.0 L645.3 694.3 L647.8 702.8 L650.3 709.2 L653.1 712.4 L655.9 715.9 L658.7 717.4 L661.2 711.0 L663.7 705.4 L667.7 649.2 L672.0 649.5 L674.8 644.7 L677.7 638.9 L682.0 666.5 L684.5 683.8 L687.0 698.5 L690.3 693.4 L693.7 687.2 L696.4 683.0 L699.2 677.7 L702.0 673.6 L705.3 680.5 L708.7 683.7 L711.2 688.4 L713.7 692.1 L716.2 676.2 L718.7 664.4 L721.2 654.0 L723.7 647.8 L727.0 659.6 L730.3 662.9 L733.7 671.6 L737.0 680.6 L740.3 687.9 L743.7 695.4 L747.0 700.5 L750.3 700.6 L753.7 699.5 L756.2 708.8 L758.7 718.9 L761.2 726.7 L763.7 735.3 L767.0 737.3 L770.3 740.5 L773.7 736.2 L777.0 730.9 L779.5 729.5 L782.0 724.0 L784.5 723.6 L787.0 717.4 L789.5 717.1 L792.0 713.2 L794.5 713.7 L797.0 710.4 L800.3 708.7 L803.7 707.5 L806.2 702.5 L808.7 698.2 L811.2 701.6 L813.7 710.3 L817.0 719.8 L820.3 730.4 L822.8 732.7 L825.3 737.2 L828.7 728.2 L832.0 724.5 L834.5 727.4 L837.0 731.9 L839.8 731.9 L842.6 735.7 L845.3 740.4 L848.7 748.6 L852.0 755.8 L854.8 746.6 L857.6 740.8 L860.3 734.5 L863.7 736.2 L867.0 738.9 L870.3 745.8 L873.7 750.1 L876.2 748.8 L878.7 749.6 L881.2 732.2 L883.7 718.4 L887.0 724.8 L890.3 731.3 L893.7 737.0 L897.0 741.8 L900.3 746.8 L903.7 751.8 L907.0 757.3 L910.3 758.4 L912.8 766.1 L915.3 772.6 L918.7 782.9 L922.0 779.0 L925.3 772.2 L928.1 772.0 L930.9 767.9 L933.7 765.5 L936.4 763.7 L939.2 761.9 L942.0 759.5 L945.3 749.6 L948.7 738.2 L952.0 731.8 L955.3 728.4 L957.8 718.5 L960.3 706.9 L963.7 697.3 L967.0 706.0 L970.3 713.6 L972.8 719.9 L975.3 723.0 L977.8 726.4 L980.3 731.4 L983.7 721.0 L987.0 714.1 L990.3 676.1 L993.7 686.7 L997.0 693.8 L999.5 680.5 L1002.0 664.4 L1005.3 666.1 L1008.7 668.9 L1011.3 675.5 L1014.0 682.2 L1014.0 672.5 L1017.3 683.6 L1020.7 692.7 L1023.4 690.7 L1026.2 692.0 L1029.0 688.8 L1031.8 692.1 L1034.6 696.6 L1037.3 700.1 L1040.7 693.6 L1044.0 683.9 L1046.5 683.4 L1049.0 686.9 L1051.5 686.5 L1054.0 688.9 L1057.3 680.3 L1060.7 675.5 L1063.4 679.3 L1066.2 682.4 L1069.0 685.0 L1071.8 688.2 L1074.6 691.0 L1077.3 695.1 L1080.1 698.4 L1082.9 702.1 L1085.7 704.3 L1088.4 703.1 L1091.2 698.0 L1094.0 695.1 L1096.8 697.6 L1099.6 697.0 L1102.3 697.3 L1105.7 706.4 L1109.0 711.1 L1111.8 714.2 L1114.6 716.6 L1117.3 719.7 L1119.8 715.6 L1122.3 714.1 L1124.8 711.4 L1127.3 709.4 L1130.7 692.4 L1134.0 681.5 L1136.5 676.8 L1139.0 669.2 L1142.3 683.1 L1144.8 670.9 L1147.3 658.7 L1149.8 634.9 L1152.3 613.2 L1154.8 586.9 L1157.3 560.2 L1159.8 546.8 L1162.3 535.3 L1165.7 560.7 L1168.2 588.9 L1170.7 616.3 L1174.0 634.2 L1177.3 653.0 L1180.7 666.6 L1184.0 681.4 L1186.8 678.4 L1189.6 675.9 L1192.3 672.3 L1194.8 658.2 L1197.3 642.8 L1199.8 638.1 L1202.3 635.8 L1204.8 644.3 L1207.3 651.0 L1210.1 659.1 L1212.9 665.3 L1215.7 671.5 L1219.0 660.3 L1222.3 649.3 L1224.8 634.8 L1227.3 618.4 L1231.3 599.1 L1235.7 615.5 L1239.0 619.9 L1242.3 621.5 L1245.7 612.3 L1249.0 600.4 L1251.5 604.7 L1254.0 613.1 L1256.8 617.8 L1259.6 616.3 L1262.3 620.5 L1265.1 622.9 L1267.9 626.7 L1270.7 631.2 L1273.4 633.8 L1276.2 634.6 L1279.0 637.8 L1282.3 643.5 L1285.7 649.2 L1289.0 654.9 L1292.3 664.8 L1295.7 665.2 L1299.0 665.4 L1301.8 658.0 L1304.6 655.8 L1307.3 650.6 L1310.7 648.6 L1314.0 645.3 L1316.5 641.7 L1319.0 638.9 L1321.8 647.5 L1324.6 655.3 L1327.3 660.5 L1330.7 655.7 L1334.0 647.9 L1336.8 648.3 L1339.6 648.7 L1342.3 648.1 L1345.7 641.7 L1349.0 630.5 L1351.5 636.5 L1354.0 647.6 L1356.8 648.2 L1359.6 650.3 L1362.3 652.3 L1365.7 657.4 L1369.0 663.5 L1372.3 668.8 L1375.7 669.9 L1378.4 668.6 L1381.2 669.3 L1384.0 664.9 L1387.3 664.3 L1390.7 661.7 L1393.4 664.2 L1396.2 669.9 L1399.0 673.3 L1401.8 667.7 L1404.6 664.8 L1407.3 658.3 L1410.7 660.8 L1414.0 665.4 L1417.3 658.3 L1420.7 650.0 L1423.2 644.0 L1425.7 636.8 L1428.3 644.0 L1431.0 649.8 L1431.0 649.8 L1434.3 644.8 L1437.7 640.8 L1441.0 638.5 L1444.3 635.9 L1447.7 641.4 L1451.0 645.6 L1455.0 620.5 L1458.3 594.3 L1462.7 618.1 L1465.2 628.4 L1467.7 636.2 L1470.2 640.8 L1472.7 642.6 L1475.2 650.2 L1477.7 659.5 L1481.0 662.1 L1484.3 665.8 L1487.7 670.5 L1491.0 676.6 L1494.3 672.1 L1497.7 664.9 L1500.4 664.7 L1503.2 665.5 L1506.0 665.0 L1509.3 661.8 L1512.7 657.5 L1515.5 649.3 L1518.3 643.3 L1521.3 640.6 L1524.3 636.7 L1527.7 641.1 L1531.0 648.6 L1533.5 657.3 L1536.0 661.8 L1539.3 665.9 L1542.7 671.9 L1545.2 674.5 L1547.7 676.9 L1551.0 675.3 L1554.3 668.8 L1557.7 674.3 L1561.0 680.1 L1564.3 681.5 L1567.7 683.9 L1571.0 684.4 L1574.3 685.0 L1577.1 686.1 L1579.9 686.8 L1582.7 686.5 L1585.2 691.6 L1587.7 695.0 L1591.0 694.1 L1594.3 694.1 L1597.7 699.4 L1601.0 704.6 L1603.8 707.0 L1606.6 711.0 L1609.3 714.7" stroke="#222222" stroke-width="11.5"/>
<ellipse cx="922.2" cy="793.4" rx="45.5" ry="39.4" stroke="#222222" stroke-width="9.8"/>
<path d="M193.3 766.4 L196.7 763.6 L200.0 759.3 L202.5 754.2 L205.0 749.3 L208.3 751.4 L211.7 755.3 L214.2 748.4 L216.7 744.6 L220.0 717.1 L223.3 715.0 L226.7 714.0 L230.0 707.3 L233.3 700.2 L237.3 678.8 L240.0 621.2 L242.3 586.7 L245.0 616.5 L247.5 617.0 L250.0 615.5 L253.3 650.4 L255.8 672.8 L258.3 691.5 L260.8 695.5 L263.3 704.3 L265.8 697.5 L268.3 689.7 L270.8 698.0 L273.3 706.7 L275.8 712.6 L278.3 717.3 L280.8 712.1 L283.3 708.7 L285.8 709.3 L288.3 711.9 L291.7 705.7 L295.0 700.9 L297.8 693.0 L300.6 689.1 L303.3 680.1 L306.1 674.6 L308.9 670.8 L311.7 665.0 L314.2 662.6 L316.7 661.6 L320.0 652.3 L323.3 641.8 L325.8 642.8 L328.3 646.3 L330.8 638.2 L333.3 629.7 L335.8 642.1 L338.3 650.6 L340.8 654.7 L343.3 658.9 L345.8 661.6 L348.3 664.0 L351.7 641.6 L354.2 647.4 L356.7 653.7 L359.2 646.4 L361.7 642.5 L364.2 641.0 L366.7 642.7 L369.2 633.9 L371.7 624.6 L374.2 637.2 L376.7 648.6 L380.0 640.0 L384.0 656.3 L387.3 690.9 L390.7 652.4 L395.0 643.9 L397.5 662.1 L400.0 680.4 L404.0 712.6 L406.7 742.6 L410.0 713.6 L412.5 715.7 L415.0 714.5 L417.5 724.7 L420.0 731.5 L422.5 728.6 L425.0 721.5 L428.3 695.4 L430.8 695.6 L433.3 689.9 L435.8 684.2 L438.3 680.5 L440.8 671.1 L443.3 659.2 L445.8 663.9 L448.3 665.6 L451.7 662.9 L454.2 670.0 L456.7 678.3 L460.0 692.2 L463.3 705.1 L466.7 718.4 L470.0 730.2 L472.5 739.2 L475.0 748.4 L477.5 755.3 L480.0 760.0 L482.5 752.4 L485.0 745.2 L487.5 748.9 L490.0 751.9 L493.3 729.5 L496.7 731.5 L500.0 735.9 L502.8 729.9 L505.6 723.8 L508.3 722.6 L510.8 718.0 L513.3 714.9 L516.7 722.9 L520.0 730.2 L523.3 727.5 L526.7 721.6 L529.2 719.4 L531.7 718.5 L534.2 716.8 L536.7 713.8 L540.0 719.1 L543.3 727.5 L546.7 719.6 L550.0 710.5 L552.8 708.7 L555.6 705.1 L558.3 701.5 L560.8 710.6 L563.3 718.6 L565.8 714.1 L568.3 705.8 L571.7 718.7 L575.0 733.0 L577.5 741.1 L580.0 752.6 L582.5 761.6 L585.0 773.0 L587.5 775.7 L590.0 781.7 L593.3 749.4 L595.0 706.8 L597.0 714.3 L600.3 713.5 L603.7 714.1 L606.4 715.1 L609.2 711.7 L612.0 711.8 L615.3 710.9 L618.7 707.3 L622.0 711.5 L625.3 719.9 L628.7 717.4 L632.0 716.5 L634.5 712.6 L637.0 710.4 L639.5 720.6 L642.0 725.9 L644.8 723.8 L647.6 725.8 L650.3 721.7 L653.7 723.8 L657.0 726.0 L659.5 735.9 L662.0 744.4 L664.5 736.5 L667.0 724.8 L669.5 722.1 L672.0 718.5 L674.5 718.7 L677.0 719.8 L679.5 728.3 L682.0 733.2 L684.5 741.2 L687.0 747.8 L690.3 749.0 L693.7 749.6 L696.4 749.0 L699.2 747.1 L702.0 747.1 L704.5 751.9 L707.0 761.9 L710.3 764.5 L713.7 770.0 L717.0 762.5 L720.3 755.6 L722.8 753.4 L725.3 754.4 L727.8 753.7 L730.3 754.5 L733.7 751.9 L737.0 748.3 L740.3 744.8 L743.7 740.1 L747.0 736.8 L750.3 735.5 L752.8 738.6 L755.3 745.1 L758.7 747.4 L762.0 748.5 L764.5 750.7 L767.0 758.4 L769.5 758.4 L772.0 759.3 L774.5 759.7 L777.0 760.0 L779.8 757.3 L782.6 754.7 L785.3 750.3 L788.1 747.8 L790.9 746.1 L793.7 742.3 L797.0 739.8 L800.3 739.4 L803.7 738.8 L807.0 738.0 L810.3 738.3 L813.7 738.8 L816.2 748.3 L818.7 754.8 L821.2 754.2 L823.7 755.2 L827.0 755.9 L830.3 757.1 L833.7 763.4 L837.0 763.2 L839.8 768.7 L842.6 772.8 L845.3 777.4 L848.7 779.2 L852.0 782.3 L854.8 779.3 L857.6 778.9 L860.3 775.2 L862.8 774.8 L865.3 774.2 L868.7 781.0 L872.0 787.3 L874.8 788.7 L877.6 785.1 L880.3 785.8 L882.8 784.7 L885.2 784.3 L887.6 783.7 L890.0 789.8 L892.5 790.3 L894.9 795.7 L897.3 799.7 L899.7 801.2 L903.4 807.3 L906.4 803.7 L909.4 801.4 L911.9 808.9 L914.3 808.2 L916.7 814.5 L919.1 817.9 L921.6 820.4 L924.0 818.7 L926.4 812.6 L928.9 809.3 L931.3 808.7 L933.7 807.3 L936.1 804.3 L938.6 801.2 L941.0 797.4 L944.6 782.9 L945.3 785.1 L947.8 778.5 L950.3 771.8 L953.1 775.2 L955.9 781.1 L958.7 784.2 L961.2 771.8 L963.7 760.4 L966.2 763.1 L968.7 765.7 L971.4 769.8 L974.2 779.5 L977.0 785.8 L980.3 780.0 L983.7 771.4 L986.2 760.7 L988.7 748.6 L992.0 734.9 L994.5 738.7 L997.0 738.0 L1000.3 734.6 L1003.7 727.6 L1007.0 730.6 L1010.3 731.2 L1014.0 737.8 L1014.0 743.3 L1016.8 744.6 L1019.6 743.8 L1022.3 745.7 L1025.7 749.2 L1029.0 747.8 L1031.8 753.3 L1034.6 756.0 L1037.3 755.8 L1040.7 746.7 L1044.0 738.9 L1046.5 740.2 L1049.0 742.1 L1051.5 747.4 L1054.0 745.6 L1056.5 745.8 L1059.0 745.7 L1061.5 741.9 L1064.0 740.8 L1066.5 742.9 L1069.0 742.4 L1071.5 745.3 L1074.0 747.9 L1077.3 747.2 L1080.7 747.2 L1084.0 751.0 L1087.3 753.6 L1090.1 750.5 L1092.9 749.3 L1095.7 748.0 L1098.4 749.2 L1101.2 750.8 L1104.0 749.5 L1107.3 746.3 L1110.7 743.7 L1114.0 753.0 L1117.3 756.3 L1120.1 754.1 L1122.9 756.0 L1125.7 753.7 L1128.2 746.6 L1130.7 735.5 L1134.0 725.7 L1137.3 717.1 L1139.8 725.2 L1142.3 732.1 L1144.8 725.4 L1147.3 721.2 L1149.8 697.4 L1152.3 670.7 L1154.8 648.4 L1157.3 625.6 L1159.8 614.0 L1162.3 607.5 L1165.7 633.4 L1168.2 653.9 L1170.7 671.4 L1174.0 688.2 L1177.3 708.5 L1180.7 717.1 L1184.0 725.6 L1187.3 723.5 L1190.7 721.5 L1193.2 708.2 L1195.7 694.5 L1199.0 687.7 L1202.3 683.6 L1204.8 691.5 L1207.3 698.1 L1210.7 710.7 L1214.0 718.2 L1217.3 712.7 L1220.7 708.9 L1223.2 694.6 L1225.7 685.2 L1228.2 670.0 L1230.7 655.8 L1234.0 662.4 L1237.3 669.0 L1240.7 673.7 L1244.0 680.0 L1246.5 673.4 L1249.0 667.0 L1252.3 670.3 L1255.7 676.7 L1259.0 675.1 L1262.3 673.8 L1265.1 676.4 L1267.9 679.1 L1270.7 685.4 L1273.4 691.2 L1276.2 695.2 L1279.0 700.1 L1281.5 706.9 L1284.0 714.1 L1286.8 713.7 L1289.6 717.2 L1292.3 716.2 L1295.7 717.2 L1299.0 718.9 L1302.3 720.5 L1305.7 718.2 L1308.4 718.3 L1311.2 719.0 L1314.0 714.8 L1317.3 712.8 L1320.7 710.6 L1324.0 716.3 L1327.3 720.8 L1330.7 719.6 L1334.0 722.6 L1336.5 714.9 L1339.0 709.3 L1341.5 716.6 L1344.0 720.9 L1346.5 713.5 L1349.0 710.7 L1351.8 712.8 L1354.6 714.4 L1357.3 714.5 L1360.1 715.2 L1362.9 716.4 L1365.7 720.2 L1369.0 725.8 L1372.3 730.5 L1375.7 732.8 L1379.0 737.2 L1381.8 733.4 L1384.6 731.7 L1387.3 733.5 L1390.7 733.7 L1394.0 735.4 L1397.3 742.4 L1400.7 744.3 L1403.4 746.7 L1406.2 742.9 L1409.0 741.5 L1411.5 741.7 L1414.0 742.8 L1416.5 744.0 L1419.0 747.1 L1421.5 735.6 L1424.0 726.5 L1426.3 726.8 L1428.7 724.6 L1431.0 725.2 L1431.0 731.0 L1434.3 727.9 L1437.7 725.5 L1441.0 723.7 L1444.3 721.8 L1447.7 727.0 L1451.0 728.8 L1455.0 713.7 L1458.3 690.4 L1462.7 716.8 L1465.2 722.5 L1467.7 729.7 L1471.0 730.5 L1474.3 732.3 L1477.7 736.8 L1481.0 744.1 L1484.0 749.3 L1487.0 754.5 L1489.4 751.0 L1491.9 747.2 L1494.3 744.5 L1497.7 744.5 L1501.0 749.6 L1503.8 746.2 L1506.6 741.3 L1509.3 740.3 L1512.1 741.7 L1514.9 740.2 L1517.7 739.5 L1520.4 740.5 L1523.2 748.4 L1526.0 751.7 L1528.8 749.4 L1531.6 751.1 L1534.3 754.5 L1537.1 756.7 L1539.9 756.9 L1542.7 760.1 L1545.2 767.1 L1547.7 775.7 L1550.4 775.8 L1553.2 777.6 L1556.0 778.0 L1559.3 779.7 L1562.7 780.0 L1566.0 781.7 L1569.3 783.9 L1572.1 784.3 L1574.9 786.4 L1577.7 785.0 L1580.4 788.0 L1583.2 789.5 L1586.0 790.3 L1588.8 787.0 L1591.6 787.9 L1594.3 785.3 L1597.7 789.5 L1601.0 795.3 L1603.5 795.0 L1606.0 793.6 L1608.5 793.7 L1611.0 793.3" stroke="#ff0000" stroke-width="10.6"/>
<ellipse cx="1597" cy="737.5" rx="45" ry="87.5" stroke="#222222" stroke-width="10"/>
</g>
<polygon points="933.0,400.8 919.1,655.8 909.9,655.3 922.0,682.0 936.9,656.8 927.7,656.3 941.6,401.2" fill="#222222"/>
<polygon points="1566.1,387.5 1602.7,581.5 1593.6,583.3 1611.7,606.3 1620.1,578.2 1611.1,580.0 1574.5,385.9" fill="#222222"/>
<polygon points="1295.8,766.5 1295.8,703.3 1304.3,703.3 1291.3,677.3 1278.3,703.3 1286.8,703.3 1286.8,766.5" fill="#222222"/>
<text x="821.7" y="318.3" font-size="36.5" fill="#1a1a1a" textLength="168.0" lengthAdjust="spacingAndGlyphs" stroke="#1a1a1a" stroke-width="0.5" >Internet-/</text>
<text x="821.7" y="366.7" font-size="36.5" fill="#1a1a1a" textLength="233.1" lengthAdjust="spacingAndGlyphs" stroke="#1a1a1a" stroke-width="0.5" >Telekomblase</text>
<text x="1494.0" y="310.0" font-size="36.5" fill="#1a1a1a" textLength="121.2" lengthAdjust="spacingAndGlyphs" stroke="#1a1a1a" stroke-width="0.5" >KI-/IT-</text>
<text x="1494.0" y="358.3" font-size="36.5" fill="#1a1a1a" textLength="92.8" lengthAdjust="spacingAndGlyphs" stroke="#1a1a1a" stroke-width="0.5" >Blase</text>
<text x="1172.0" y="789.7" font-size="36.5" fill="#1a1a1a" textLength="206.2" lengthAdjust="spacingAndGlyphs" stroke="#1a1a1a" stroke-width="0.5" >Durchschnitt</text>
<text transform="translate(202.4,858.1) rotate(-45)" x="0" y="0" font-size="38" fill="#357c85" text-anchor="end" textLength="95" lengthAdjust="spacingAndGlyphs">1972</text>
<text transform="translate(282.5,858.1) rotate(-45)" x="0" y="0" font-size="38" fill="#357c85" text-anchor="end" textLength="95" lengthAdjust="spacingAndGlyphs">1975</text>
<text transform="translate(362.5,858.1) rotate(-45)" x="0" y="0" font-size="38" fill="#357c85" text-anchor="end" textLength="95" lengthAdjust="spacingAndGlyphs">1978</text>
<text transform="translate(442.6,858.1) rotate(-45)" x="0" y="0" font-size="38" fill="#357c85" text-anchor="end" textLength="95" lengthAdjust="spacingAndGlyphs">1981</text>
<text transform="translate(522.6,858.1) rotate(-45)" x="0" y="0" font-size="38" fill="#357c85" text-anchor="end" textLength="95" lengthAdjust="spacingAndGlyphs">1984</text>
<text transform="translate(602.7,858.1) rotate(-45)" x="0" y="0" font-size="38" fill="#357c85" text-anchor="end" textLength="95" lengthAdjust="spacingAndGlyphs">1987</text>
<text transform="translate(682.8,858.1) rotate(-45)" x="0" y="0" font-size="38" fill="#357c85" text-anchor="end" textLength="95" lengthAdjust="spacingAndGlyphs">1990</text>
<text transform="translate(762.8,858.1) rotate(-45)" x="0" y="0" font-size="38" fill="#357c85" text-anchor="end" textLength="95" lengthAdjust="spacingAndGlyphs">1993</text>
<text transform="translate(842.9,858.1) rotate(-45)" x="0" y="0" font-size="38" fill="#357c85" text-anchor="end" textLength="95" lengthAdjust="spacingAndGlyphs">1996</text>
<text transform="translate(922.9,858.1) rotate(-45)" x="0" y="0" font-size="38" fill="#357c85" text-anchor="end" textLength="95" lengthAdjust="spacingAndGlyphs">1999</text>
<text transform="translate(1003.0,858.1) rotate(-45)" x="0" y="0" font-size="38" fill="#357c85" text-anchor="end" textLength="95" lengthAdjust="spacingAndGlyphs">2002</text>
<text transform="translate(1083.1,858.1) rotate(-45)" x="0" y="0" font-size="38" fill="#357c85" text-anchor="end" textLength="95" lengthAdjust="spacingAndGlyphs">2005</text>
<text transform="translate(1163.1,858.1) rotate(-45)" x="0" y="0" font-size="38" fill="#357c85" text-anchor="end" textLength="95" lengthAdjust="spacingAndGlyphs">2008</text>
<text transform="translate(1243.2,858.1) rotate(-45)" x="0" y="0" font-size="38" fill="#357c85" text-anchor="end" textLength="95" lengthAdjust="spacingAndGlyphs">2011</text>
<text transform="translate(1323.2,858.1) rotate(-45)" x="0" y="0" font-size="38" fill="#357c85" text-anchor="end" textLength="95" lengthAdjust="spacingAndGlyphs">2014</text>
<text transform="translate(1403.3,858.1) rotate(-45)" x="0" y="0" font-size="38" fill="#357c85" text-anchor="end" textLength="95" lengthAdjust="spacingAndGlyphs">2017</text>
<text transform="translate(1483.4,858.1) rotate(-45)" x="0" y="0" font-size="38" fill="#357c85" text-anchor="end" textLength="95" lengthAdjust="spacingAndGlyphs">2020</text>
<text transform="translate(1563.4,858.1) rotate(-45)" x="0" y="0" font-size="38" fill="#357c85" text-anchor="end" textLength="95" lengthAdjust="spacingAndGlyphs">2023</text>
<text x="33.0" y="1034.9" font-size="46.0" fill="#868686" textLength="1511.0" lengthAdjust="spacingAndGlyphs" >Abbildung 19: Quelle: MSCI, US-Zentralbank St. Louis, ECB Data Portal, eig.</text>
<text x="34.7" y="1098.8" font-size="46.0" fill="#868686" textLength="513.5" lengthAdjust="spacingAndGlyphs" >Berechnungen, Okt. 2025</text>
</g>
<g font-family="Liberation Sans, sans-serif">
<rect x="1883" y="17" width="5" height="5" fill="#1f3864"/>
<text x="2071.6" y="56.6" font-size="45.0" fill="#1f3864" textLength="105.5" lengthAdjust="spacingAndGlyphs" stroke="#1f3864" stroke-width="0.7" >USA:</text>
<text x="2192.0" y="56.6" font-size="45.0" fill="#548235" textLength="1131.1" lengthAdjust="spacingAndGlyphs" stroke="#548235" stroke-width="0.7" >Risikoprämie von Aktien (Cash-Earnings-Rendite minus</text>
<text x="2351.0" y="120.5" font-size="45.0" fill="#548235" textLength="596.5" lengthAdjust="spacingAndGlyphs" stroke="#548235" stroke-width="0.7" >Zinsen für 10-jähr. Anleihen)</text>
<text x="2964.6" y="120.5" font-size="45.0" fill="#1f3864" textLength="77.2" lengthAdjust="spacingAndGlyphs" stroke="#1f3864" stroke-width="0.7" >und</text>
<text x="2087.3" y="185.9" font-size="45.0" fill="#ff0000" textLength="1216.5" lengthAdjust="spacingAndGlyphs" stroke="#ff0000" stroke-width="0.7" >Aktienkurse nach hohen Kursgewinnen (51% bis 57%) und</text>
<text x="2386.0" y="249.8" font-size="45.0" fill="#ff0000" textLength="620.9" lengthAdjust="spacingAndGlyphs" stroke="#ff0000" stroke-width="0.7" >dann niedrigen Risikoprämien</text>
<text x="1924.3" y="202.9" font-size="35.5" fill="#1f3864" textLength="48.5" lengthAdjust="spacingAndGlyphs" text-anchor="end" stroke="#1f3864" stroke-width="0.5" >35</text>
<text x="1924.3" y="281.6" font-size="35.5" fill="#1f3864" textLength="48.5" lengthAdjust="spacingAndGlyphs" text-anchor="end" stroke="#1f3864" stroke-width="0.5" >30</text>
<text x="1924.3" y="360.4" font-size="35.5" fill="#1f3864" textLength="48.5" lengthAdjust="spacingAndGlyphs" text-anchor="end" stroke="#1f3864" stroke-width="0.5" >25</text>
<text x="1924.3" y="439.1" font-size="35.5" fill="#1f3864" textLength="48.5" lengthAdjust="spacingAndGlyphs" text-anchor="end" stroke="#1f3864" stroke-width="0.5" >20</text>
<text x="1924.3" y="517.9" font-size="35.5" fill="#1f3864" textLength="48.5" lengthAdjust="spacingAndGlyphs" text-anchor="end" stroke="#1f3864" stroke-width="0.5" >15</text>
<text x="1924.3" y="596.6" font-size="35.5" fill="#1f3864" textLength="48.5" lengthAdjust="spacingAndGlyphs" text-anchor="end" stroke="#1f3864" stroke-width="0.5" >10</text>
<text x="1924.3" y="675.4" font-size="35.5" fill="#1f3864" textLength="21.5" lengthAdjust="spacingAndGlyphs" text-anchor="end" stroke="#1f3864" stroke-width="0.5" >5</text>
<text x="1924.3" y="754.1" font-size="35.5" fill="#1f3864" textLength="21.5" lengthAdjust="spacingAndGlyphs" text-anchor="end" stroke="#1f3864" stroke-width="0.5" >0</text>
<text x="1924.3" y="832.9" font-size="35.5" fill="#1f3864" textLength="36.5" lengthAdjust="spacingAndGlyphs" text-anchor="end" stroke="#1f3864" stroke-width="0.5" >-5</text>
<text x="3453.3" y="208.1" font-size="44.0" fill="#ff0000" textLength="81.5" lengthAdjust="spacingAndGlyphs" font-weight="bold" >120</text>
<text x="3453.3" y="312.6" font-size="44.0" fill="#ff0000" textLength="81.5" lengthAdjust="spacingAndGlyphs" font-weight="bold" >100</text>
<text x="3455.3" y="417.1" font-size="44.0" fill="#ff0000" textLength="56.7" lengthAdjust="spacingAndGlyphs" font-weight="bold" >80</text>
<text x="3455.3" y="521.6" font-size="44.0" fill="#ff0000" textLength="56.7" lengthAdjust="spacingAndGlyphs" font-weight="bold" >60</text>
<text x="3455.3" y="626.1" font-size="44.0" fill="#ff0000" textLength="56.7" lengthAdjust="spacingAndGlyphs" font-weight="bold" >40</text>
<text x="3455.3" y="730.6" font-size="44.0" fill="#ff0000" textLength="56.7" lengthAdjust="spacingAndGlyphs" font-weight="bold" >20</text>
<text x="3455.3" y="835.1" font-size="44.0" fill="#ff0000" textLength="31.5" lengthAdjust="spacingAndGlyphs" font-weight="bold" >0</text>
<line x1="1963.8" y1="821.2" x2="3416.3" y2="821.2" stroke="#d9d9d9" stroke-width="3.2"/>
<g fill="none" stroke-linejoin="round" stroke-linecap="round">
<line x1="1967.5" y1="297.8" x2="3416" y2="297.8" stroke="#ff0000" stroke-width="8.3" stroke-dasharray="15 17"/>
<path d="M2027.3 702.7 L2031.7 696.8 L2035.0 693.2 L2038.3 682.9 L2042.7 690.7 L2046.7 682.7 L2049.3 672.7 L2050.7 653.3 L2053.3 646.6 L2057.3 652.5 L2061.7 641.3 L2065.0 631.6 L2067.3 627.9 L2069.3 587.4 L2071.7 551.3 L2074.0 517.0 L2076.7 527.4 L2079.3 513.4 L2081.7 538.2 L2084.0 574.4 L2087.3 596.3 L2090.0 621.9 L2092.7 637.7 L2096.7 628.0 L2100.0 620.9 L2102.7 637.6 L2106.0 650.9 L2110.0 642.8 L2113.3 651.8 L2116.7 638.3 L2120.0 645.3 L2122.7 633.1 L2126.7 633.4 L2129.0 617.6 L2132.7 618.2 L2136.7 604.1 L2139.2 597.5 L2141.7 591.7 L2145.0 596.6 L2149.3 581.2 L2151.7 564.3 L2155.0 562.9 L2157.3 575.9 L2160.7 557.6 L2163.3 554.9 L2166.0 571.6 L2168.3 585.0 L2171.7 587.7 L2175.0 594.0 L2178.3 595.6 L2179.3 566.2 L2182.7 571.8 L2186.0 582.8 L2188.3 568.5 L2191.7 576.9 L2195.0 562.3 L2198.3 549.1 L2200.7 575.3 L2204.0 579.8 L2206.7 564.4 L2209.3 588.1 L2212.7 604.7 L2215.0 624.7 L2216.7 573.1 L2220.0 580.6 L2222.7 570.1 L2225.0 604.1 L2228.3 621.9 L2231.7 641.8 L2234.0 676.5 L2236.7 652.2 L2238.3 646.7 L2241.7 654.1 L2245.0 659.6 L2247.3 670.2 L2251.7 666.2 L2254.0 654.5 L2255.0 627.5 L2258.3 638.5 L2260.7 618.4 L2263.3 617.4 L2266.0 623.9 L2268.3 587.4 L2271.7 605.5 L2275.0 586.7 L2278.3 589.5 L2280.0 613.9 L2283.3 605.5 L2286.7 622.0 L2290.0 633.5 L2293.3 653.2 L2296.7 659.9 L2298.3 675.8 L2301.7 684.3 L2305.0 697.7 L2308.3 681.0 L2311.7 691.7 L2315.0 685.2 L2318.3 665.0 L2321.7 673.8 L2325.0 663.6 L2328.3 670.6 L2330.0 651.3 L2333.3 667.3 L2337.3 644.9 L2340.7 649.2 L2344.0 664.9 L2346.7 666.8 L2350.0 661.8 L2353.3 655.2 L2356.7 654.5 L2360.0 646.3 L2363.3 659.1 L2367.0 662.4 L2367.0 662.6 L2370.3 653.6 L2373.7 641.7 L2377.0 644.4 L2379.7 654.4 L2382.0 632.6 L2385.3 636.4 L2388.7 639.8 L2392.0 636.6 L2394.3 655.3 L2397.0 672.4 L2400.3 686.2 L2403.7 698.2 L2407.0 715.6 L2409.5 720.7 L2412.0 723.5 L2413.7 695.7 L2415.3 668.2 L2417.0 640.1 L2420.3 654.4 L2423.7 645.6 L2427.0 641.2 L2429.5 645.9 L2432.0 651.5 L2435.3 636.3 L2438.7 642.5 L2443.0 639.4 L2447.0 656.5 L2450.3 652.3 L2454.3 654.5 L2457.7 646.8 L2460.3 660.1 L2464.3 661.8 L2468.7 654.9 L2473.0 653.3 L2477.0 667.0 L2481.0 681.7 L2484.3 676.9 L2487.7 657.0 L2492.0 651.5 L2494.5 653.4 L2497.0 656.9 L2500.3 671.3 L2503.7 685.6 L2507.0 688.4 L2511.0 695.2 L2515.3 685.5 L2517.8 687.1 L2520.3 684.5 L2523.7 697.1 L2527.0 708.7 L2530.3 708.3 L2533.7 708.1 L2536.2 701.7 L2538.7 691.9 L2541.2 691.4 L2543.7 688.8 L2546.2 690.8 L2548.7 693.6 L2551.2 691.1 L2553.7 686.4 L2556.2 682.4 L2558.7 680.0 L2561.2 678.8 L2563.7 675.8 L2566.2 671.6 L2568.7 671.5 L2573.0 681.6 L2577.0 690.4 L2579.5 688.5 L2582.0 687.0 L2585.3 699.5 L2588.7 694.3 L2591.2 696.4 L2593.7 699.2 L2596.2 697.5 L2598.7 697.5 L2601.2 692.4 L2603.7 688.0 L2606.2 683.6 L2608.7 680.6 L2611.2 677.1 L2613.7 673.4 L2616.2 674.2 L2618.7 675.1 L2623.0 670.0 L2625.8 673.1 L2628.7 674.8 L2631.2 680.3 L2633.7 688.1 L2636.2 693.3 L2638.7 699.3 L2641.2 694.9 L2643.7 691.2 L2646.2 695.7 L2648.7 701.3 L2653.0 701.7 L2655.3 711.6 L2657.8 710.4 L2660.3 710.1 L2663.7 719.9 L2666.2 723.3 L2668.7 725.6 L2672.0 718.0 L2674.5 716.3 L2677.0 715.4 L2679.5 717.0 L2682.0 719.7 L2686.3 731.0 L2689.2 729.2 L2692.0 728.0 L2695.3 712.1 L2698.7 709.4 L2702.0 716.1 L2705.3 726.6 L2707.8 729.1 L2710.3 731.1 L2712.8 734.4 L2715.3 737.2 L2717.8 740.9 L2720.3 742.8 L2722.8 745.6 L2725.3 749.5 L2727.8 753.9 L2730.3 759.9 L2732.8 757.8 L2735.3 757.4 L2738.7 761.5 L2742.0 752.2 L2744.5 749.7 L2747.0 749.8 L2749.5 746.3 L2752.0 744.1 L2755.3 724.0 L2757.8 722.0 L2760.3 719.6 L2763.7 702.1 L2767.0 722.2 L2769.5 722.9 L2772.0 724.4 L2775.3 698.4 L2778.7 703.1 L2781.3 711.1 L2784.0 718.6 L2784.0 704.9 L2786.7 719.8 L2790.0 727.0 L2794.0 719.0 L2797.3 701.5 L2800.7 686.4 L2802.3 669.8 L2805.7 680.9 L2809.0 670.8 L2812.3 667.1 L2815.7 666.5 L2819.0 674.1 L2823.3 671.5 L2825.7 687.3 L2828.2 685.7 L2830.7 684.5 L2833.2 688.8 L2835.7 692.4 L2839.0 690.8 L2842.3 681.0 L2845.7 693.1 L2849.0 696.7 L2852.3 676.6 L2855.7 675.2 L2858.2 678.3 L2860.7 681.1 L2863.2 683.1 L2865.7 682.0 L2870.0 675.9 L2874.0 674.5 L2876.5 677.6 L2879.0 680.5 L2881.5 680.7 L2884.0 680.7 L2886.5 681.4 L2889.0 682.1 L2892.3 683.5 L2895.7 691.0 L2898.2 690.0 L2900.7 689.6 L2903.2 685.6 L2905.7 682.1 L2908.2 684.2 L2910.7 685.9 L2913.2 687.2 L2915.7 685.8 L2920.0 679.7 L2924.0 689.6 L2927.3 691.9 L2930.7 686.6 L2933.2 686.6 L2935.7 684.7 L2938.0 674.7 L2940.7 670.4 L2942.3 659.2 L2945.7 650.9 L2949.0 666.8 L2951.3 668.9 L2954.7 658.2 L2957.3 654.4 L2960.0 626.8 L2963.3 585.9 L2965.7 557.6 L2968.0 537.3 L2970.0 530.0 L2972.3 538.4 L2974.0 564.4 L2976.7 597.5 L2980.0 619.3 L2983.3 641.4 L2987.3 644.1 L2989.0 651.4 L2991.3 663.9 L2995.7 657.4 L2998.2 658.4 L3000.7 657.1 L3002.3 634.7 L3004.0 617.0 L3006.7 619.5 L3009.0 607.2 L3011.3 624.4 L3014.7 620.2 L3017.3 622.4 L3019.0 641.8 L3022.3 652.8 L3025.7 648.1 L3028.0 647.8 L3030.7 635.4 L3034.0 627.1 L3035.7 605.7 L3037.3 583.5 L3040.0 607.7 L3044.0 598.5 L3047.3 609.7 L3050.7 616.1 L3053.3 613.2 L3055.0 592.6 L3059.0 596.7 L3063.3 604.4 L3067.3 600.6 L3070.7 607.4 L3073.3 615.7 L3077.3 621.2 L3080.7 627.4 L3084.0 639.2 L3088.0 641.3 L3092.3 648.2 L3095.7 652.9 L3098.2 651.1 L3100.7 650.2 L3103.2 651.2 L3105.7 651.8 L3109.0 653.3 L3111.5 651.1 L3114.0 650.4 L3116.5 650.5 L3119.0 649.4 L3121.3 648.9 L3124.0 641.4 L3127.3 647.3 L3129.8 649.7 L3132.3 653.5 L3136.7 652.9 L3140.0 647.5 L3142.3 643.8 L3145.7 653.9 L3149.0 645.9 L3152.3 636.6 L3155.7 647.5 L3158.2 647.6 L3160.7 648.9 L3163.2 650.2 L3165.7 652.3 L3170.0 651.6 L3172.3 662.7 L3175.7 668.0 L3178.2 669.6 L3180.7 671.4 L3183.2 670.5 L3185.7 668.2 L3189.0 665.9 L3193.3 667.6 L3197.3 671.7 L3201.0 682.0 L3203.3 682.1 L3207.3 676.9 L3209.8 677.6 L3212.3 677.6 L3216.7 679.2 L3220.7 681.9 L3223.3 667.5 L3225.7 655.6 L3229.0 664.0 L3232.3 669.6 L3235.7 657.0 L3239.0 660.3 L3242.3 653.3 L3245.7 652.6 L3249.0 661.4 L3252.3 668.1 L3255.7 661.7 L3258.0 641.7 L3259.0 624.3 L3261.3 638.2 L3264.0 651.6 L3267.3 664.3 L3270.7 667.4 L3274.0 664.0 L3277.3 674.5 L3280.7 678.7 L3283.3 686.0 L3286.7 692.4 L3290.0 685.8 L3294.0 681.5 L3297.3 681.9 L3300.7 683.8 L3304.0 678.0 L3307.3 680.5 L3310.7 678.3 L3313.3 685.7 L3316.7 671.9 L3320.0 675.4 L3322.3 682.7 L3325.7 688.8 L3329.0 686.2 L3332.3 684.8 L3335.7 691.4 L3338.2 693.2 L3340.7 695.4 L3344.0 704.3 L3347.3 711.2 L3349.8 714.6 L3352.3 716.3 L3354.8 715.3 L3357.3 712.3 L3360.7 722.2 L3363.2 724.9 L3365.7 727.9 L3368.2 729.1 L3370.7 730.1 L3374.0 722.6 L3376.5 723.4 L3379.0 723.5 L3382.3 731.2 L3385.7 736.3 L3389.0 728.6 L3392.3 723.5 L3395.7 728.7 L3399.0 733.3 L3402.3 734.0 L3405.7 734.7" stroke="#548235" stroke-width="10"/>
<path d="M1965.7 478.8 L1966.7 451.7 L1969.3 443.7 L1972.7 451.4 L1975.0 428.0 L1977.3 397.1 L1980.0 390.1 L1983.3 359.9 L1986.7 378.8 L1989.3 399.2 L1992.7 383.3 L1996.0 405.1 L2000.0 405.4 L2001.7 369.1 L2005.0 346.6 L2007.5 343.3 L2010.0 340.2 L2012.7 336.2 L2016.0 347.3 L2018.3 329.5 L2020.8 327.8 L2023.3 323.7 L2027.3 296.8 L2031.7 302.6 L2035.0 341.3 L2039.3 358.0 L2043.3 360.8 L2046.0 340.9 L2048.3 341.1 L2050.7 340.3 L2051.7 397.1 L2055.0 387.9 L2058.3 394.3 L2061.7 414.4 L2065.0 436.6 L2067.3 442.1 L2070.0 488.2 L2072.7 539.5 L2073.3 541.3" stroke="#ff0000" stroke-width="8.3"/>
<path d="M2343.3 535.5 L2345.8 525.9 L2348.3 518.7 L2350.8 518.0 L2353.3 518.0 L2357.3 535.4 L2361.7 498.5 L2365.0 486.5 L2367.0 453.2 L2367.0 515.4 L2368.7 487.5 L2371.0 443.3 L2374.3 428.4 L2378.7 422.1 L2381.0 445.8 L2383.7 416.6 L2386.3 452.5 L2389.7 426.8 L2392.0 417.9 L2394.3 437.9 L2395.3 387.3 L2397.7 362.8 L2400.3 358.7 L2403.7 362.0 L2407.0 330.1 L2409.7 295.9 L2412.0 307.9 L2413.7 361.3 L2414.3 421.4 L2416.3 441.4 L2417.7 456.7" stroke="#ff0000" stroke-width="8.3"/>
<path d="M2609.7 642.5 L2613.7 626.4 L2616.2 622.6 L2618.7 619.4 L2621.2 617.7 L2623.7 613.4 L2627.0 599.8 L2629.5 598.7 L2632.0 595.1 L2634.5 593.0 L2637.0 588.0 L2639.5 594.8 L2642.0 598.4 L2645.3 588.8 L2648.7 562.9 L2651.0 555.5 L2654.3 548.2 L2657.7 545.9 L2660.3 557.6 L2661.7 542.6 L2662.0 538.6 L2665.3 506.1 L2668.7 488.7 L2672.0 505.3 L2675.3 496.8 L2678.7 485.9 L2681.0 477.9 L2683.7 451.4 L2686.3 434.1 L2689.7 429.2 L2693.0 425.3 L2695.3 447.1 L2697.0 486.3 L2700.3 445.9 L2703.0 411.0 L2705.3 379.9 L2707.7 375.4 L2711.0 389.8 L2713.7 355.6 L2717.0 343.1 L2719.7 358.1 L2723.0 346.5 L2725.3 370.7 L2728.7 330.1 L2731.0 310.5 L2733.7 304.2 L2736.3 343.5 L2738.7 303.6 L2742.0 322.7 L2745.3 297.6 L2749.7 291.1 L2752.0 326.3 L2754.3 362.4 L2757.7 342.7 L2761.0 344.2 L2763.0 394.2 L2764.3 416.3 L2767.0 383.5 L2770.3 385.6 L2773.0 396.3 L2775.3 426.6 L2777.0 457.2 L2780.3 428.8 L2784.0 422.1 L2784.0 420.6 L2786.7 440.0 L2789.0 420.0 L2791.3 421.5 L2793.3 448.9 L2795.7 451.5 L2797.3 476.5 L2800.0 502.7 L2802.7 539.8 L2806.7 493.8 L2809.0 509.8 L2812.3 527.3 L2814.7 527.7" stroke="#ff0000" stroke-width="8.3"/>
<path d="M3259.0 620.2 L3260.0 599.7 L3262.3 580.1 L3265.7 571.0 L3268.0 559.4 L3270.0 545.1 L3272.3 543.1 L3274.0 536.5 L3274.7 567.9 L3276.7 547.9 L3278.0 539.5 L3279.0 525.4 L3281.5 520.9 L3284.0 513.3 L3286.7 495.1 L3290.7 483.7 L3294.0 469.1 L3298.0 464.9 L3302.3 452.5 L3305.0 445.2 L3308.0 477.9 L3312.3 464.0 L3314.7 492.8 L3317.3 527.0 L3320.7 495.3 L3324.0 541.8 L3327.3 499.3 L3331.3 521.3 L3334.0 508.0 L3337.3 497.4 L3341.3 489.2 L3344.0 473.6 L3346.7 460.5 L3349.0 479.6 L3352.3 489.3 L3354.7 461.0 L3357.3 443.2 L3360.0 433.8 L3362.3 409.8 L3366.7 425.6 L3369.0 401.5 L3372.3 384.8 L3375.7 369.8 L3379.0 372.3 L3380.7 346.8 L3383.2 347.1 L3385.7 342.6 L3388.0 373.5 L3391.3 385.2 L3394.0 359.4 L3396.7 326.0 L3399.0 309.4 L3402.3 299.6 L3405.7 281.7" stroke="#ff0000" stroke-width="8.3"/>
<ellipse cx="2036.7" cy="297.8" rx="25.6" ry="24.4" stroke="#ff0000" stroke-width="9.2"/>
<ellipse cx="2413.0" cy="297.8" rx="25.6" ry="24.4" stroke="#ff0000" stroke-width="9.2"/>
<ellipse cx="2743.0" cy="296.8" rx="25.6" ry="24.4" stroke="#ff0000" stroke-width="9.2"/>
<ellipse cx="3398.7" cy="297.8" rx="25.6" ry="24.4" stroke="#ff0000" stroke-width="9.2"/>
<ellipse cx="2041.0" cy="700.4" rx="26" ry="24.4" stroke="#ff0000" stroke-width="10"/>
<ellipse cx="2412.5" cy="726.3" rx="26" ry="24.4" stroke="#ff0000" stroke-width="10"/>
<ellipse cx="2737.3" cy="756.7" rx="26" ry="24.4" stroke="#ff0000" stroke-width="10"/>
<ellipse cx="3399.7" cy="738.0" rx="26" ry="24.4" stroke="#ff0000" stroke-width="10"/>
</g>
<text x="2670.0" y="570.3" font-size="31.5" fill="#000000" textLength="149.8" lengthAdjust="spacingAndGlyphs" stroke="#000000" stroke-width="0.4" >Internet-/</text>
<text x="2670.0" y="614.0" font-size="31.5" fill="#000000" textLength="208.2" lengthAdjust="spacingAndGlyphs" stroke="#000000" stroke-width="0.4" >Telekomblase</text>
<text x="3305.3" y="585.7" font-size="31.5" fill="#000000" textLength="121.2" lengthAdjust="spacingAndGlyphs" stroke="#000000" stroke-width="0.4" >KI-/IT-</text>
<text x="3305.3" y="634.7" font-size="31.5" fill="#000000" textLength="92.9" lengthAdjust="spacingAndGlyphs" stroke="#000000" stroke-width="0.4" >Blase</text>
<text transform="translate(1971.5,875.7) rotate(-45)" x="0" y="0" font-size="36.5" fill="#1f3864" text-anchor="end" textLength="96" lengthAdjust="spacingAndGlyphs">1970</text>
<text transform="translate(2049.8,875.7) rotate(-45)" x="0" y="0" font-size="36.5" fill="#1f3864" text-anchor="end" textLength="96" lengthAdjust="spacingAndGlyphs">1973</text>
<text transform="translate(2128.0,875.7) rotate(-45)" x="0" y="0" font-size="36.5" fill="#1f3864" text-anchor="end" textLength="96" lengthAdjust="spacingAndGlyphs">1976</text>
<text transform="translate(2206.3,875.7) rotate(-45)" x="0" y="0" font-size="36.5" fill="#1f3864" text-anchor="end" textLength="96" lengthAdjust="spacingAndGlyphs">1979</text>
<text transform="translate(2284.6,875.7) rotate(-45)" x="0" y="0" font-size="36.5" fill="#1f3864" text-anchor="end" textLength="96" lengthAdjust="spacingAndGlyphs">1982</text>
<text transform="translate(2362.8,875.7) rotate(-45)" x="0" y="0" font-size="36.5" fill="#1f3864" text-anchor="end" textLength="96" lengthAdjust="spacingAndGlyphs">1985</text>
<text transform="translate(2441.1,875.7) rotate(-45)" x="0" y="0" font-size="36.5" fill="#1f3864" text-anchor="end" textLength="96" lengthAdjust="spacingAndGlyphs">1988</text>
<text transform="translate(2519.4,875.7) rotate(-45)" x="0" y="0" font-size="36.5" fill="#1f3864" text-anchor="end" textLength="96" lengthAdjust="spacingAndGlyphs">1991</text>
<text transform="translate(2597.7,875.7) rotate(-45)" x="0" y="0" font-size="36.5" fill="#1f3864" text-anchor="end" textLength="96" lengthAdjust="spacingAndGlyphs">1994</text>
<text transform="translate(2675.9,875.7) rotate(-45)" x="0" y="0" font-size="36.5" fill="#1f3864" text-anchor="end" textLength="96" lengthAdjust="spacingAndGlyphs">1997</text>
<text transform="translate(2754.2,875.7) rotate(-45)" x="0" y="0" font-size="36.5" fill="#1f3864" text-anchor="end" textLength="96" lengthAdjust="spacingAndGlyphs">2000</text>
<text transform="translate(2832.5,875.7) rotate(-45)" x="0" y="0" font-size="36.5" fill="#1f3864" text-anchor="end" textLength="96" lengthAdjust="spacingAndGlyphs">2003</text>
<text transform="translate(2910.7,875.7) rotate(-45)" x="0" y="0" font-size="36.5" fill="#1f3864" text-anchor="end" textLength="96" lengthAdjust="spacingAndGlyphs">2006</text>
<text transform="translate(2989.0,875.7) rotate(-45)" x="0" y="0" font-size="36.5" fill="#1f3864" text-anchor="end" textLength="96" lengthAdjust="spacingAndGlyphs">2009</text>
<text transform="translate(3067.3,875.7) rotate(-45)" x="0" y="0" font-size="36.5" fill="#1f3864" text-anchor="end" textLength="96" lengthAdjust="spacingAndGlyphs">2012</text>
<text transform="translate(3145.6,875.7) rotate(-45)" x="0" y="0" font-size="36.5" fill="#1f3864" text-anchor="end" textLength="96" lengthAdjust="spacingAndGlyphs">2015</text>
<text transform="translate(3223.8,875.7) rotate(-45)" x="0" y="0" font-size="36.5" fill="#1f3864" text-anchor="end" textLength="96" lengthAdjust="spacingAndGlyphs">2018</text>
<text transform="translate(3302.1,875.7) rotate(-45)" x="0" y="0" font-size="36.5" fill="#1f3864" text-anchor="end" textLength="96" lengthAdjust="spacingAndGlyphs">2021</text>
<text transform="translate(3380.4,875.7) rotate(-45)" x="0" y="0" font-size="36.5" fill="#1f3864" text-anchor="end" textLength="96" lengthAdjust="spacingAndGlyphs">2024</text>
<text x="1900.4" y="1037.7" font-size="46.0" fill="#868686" textLength="1559.0" lengthAdjust="spacingAndGlyphs" >Abbildung 20: Quelle: MSCI, US-Zentralbank St. Louis, eig. Berechnungen Okt.</text>
<text x="1901.0" y="1101.6" font-size="46.0" fill="#868686" textLength="114.0" lengthAdjust="spacingAndGlyphs" >2025</text>
</g>
</svg></body></html>
